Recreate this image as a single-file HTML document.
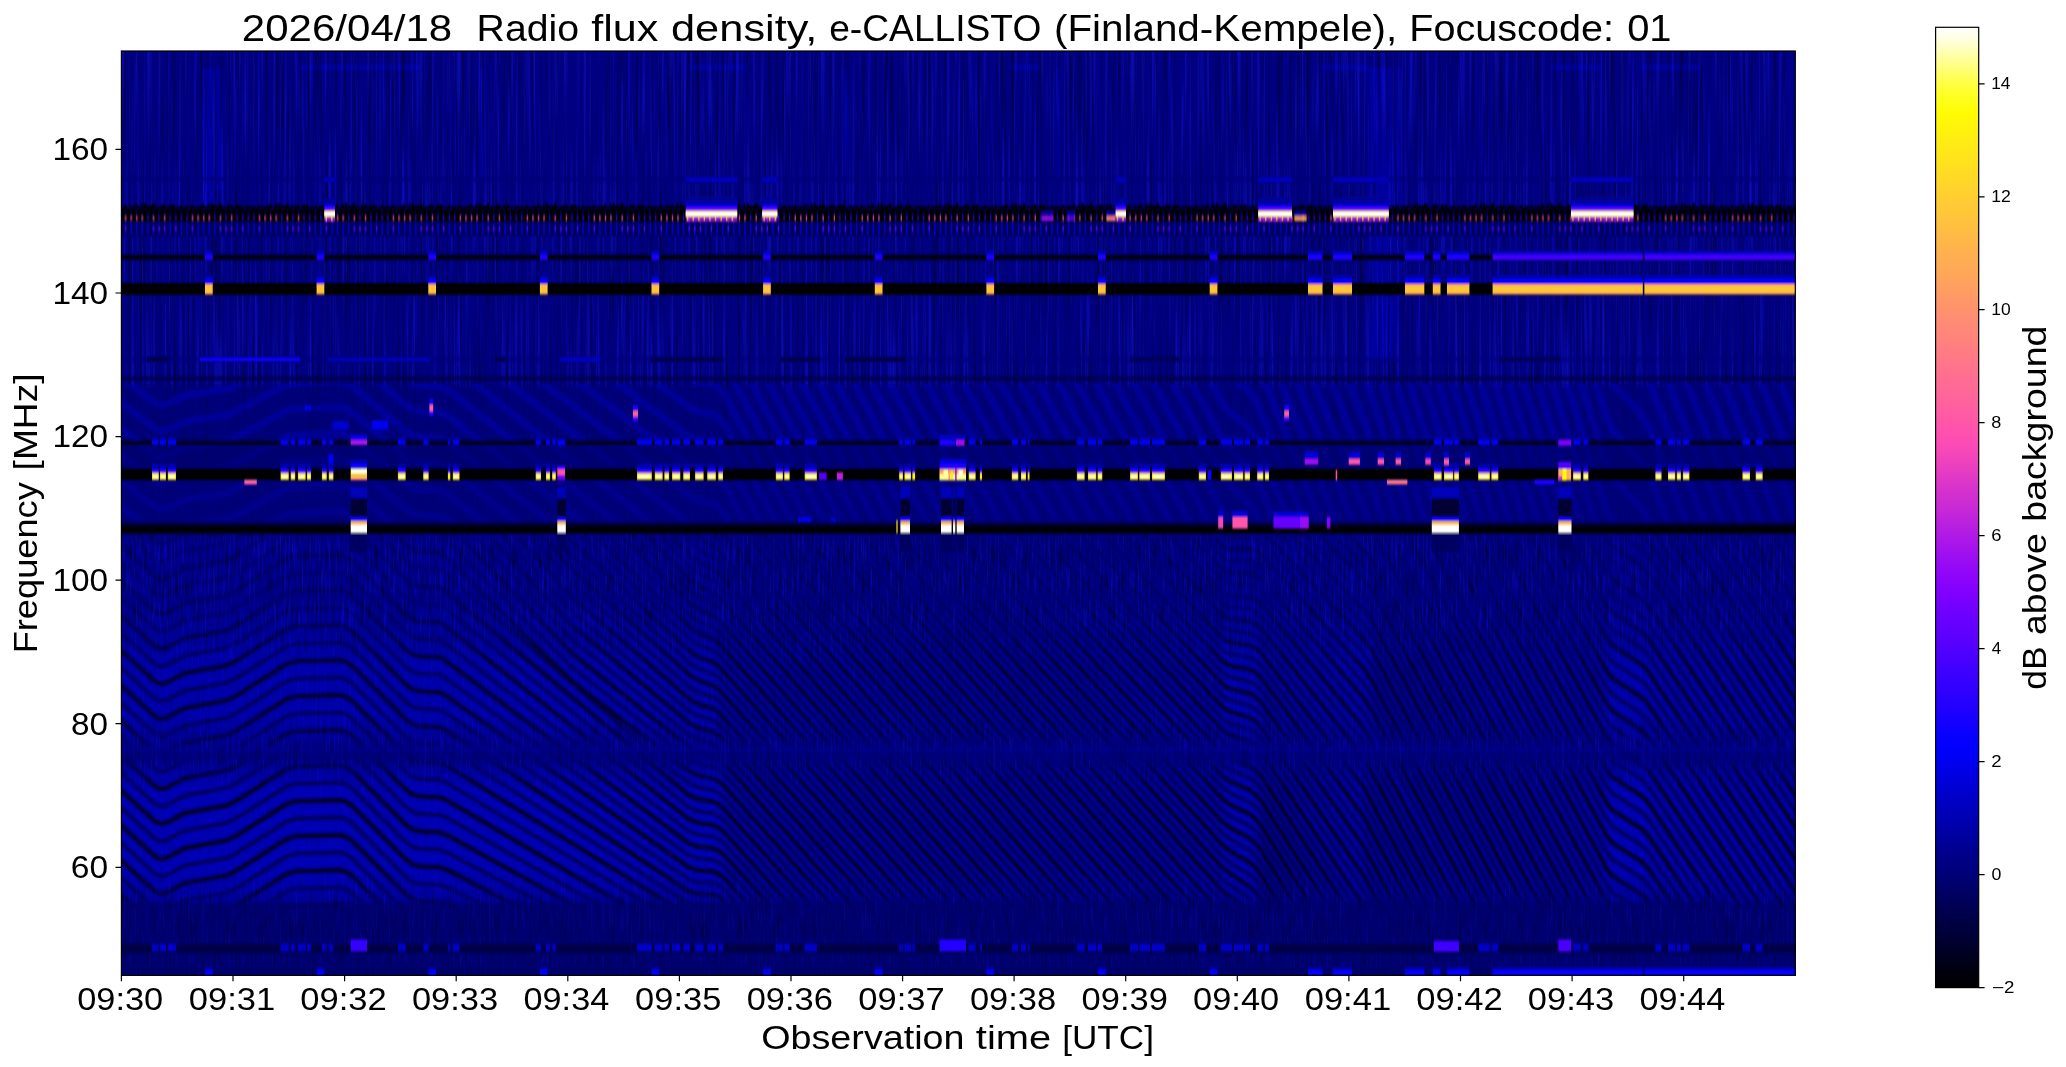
<!DOCTYPE html>
<html><head><meta charset="utf-8"><title>e-CALLISTO spectrogram</title>
<style>html,body{margin:0;padding:0;background:#fff}svg{display:block}text{font-family:"Liberation Sans",sans-serif;fill:#000}</style>
</head><body>
<svg width="2066" height="1067" viewBox="0 0 2066 1067">
<defs>
<linearGradient id="cb" x1="0" y1="0" x2="0" y2="1"><stop offset="0.0000" stop-color="#ffffff"/><stop offset="0.0147" stop-color="#ffffda"/><stop offset="0.0294" stop-color="#ffffa7"/><stop offset="0.0441" stop-color="#ffff75"/><stop offset="0.0588" stop-color="#ffff43"/><stop offset="0.0735" stop-color="#ffff1e"/><stop offset="0.0882" stop-color="#fffc03"/><stop offset="0.1029" stop-color="#fff40b"/><stop offset="0.1176" stop-color="#ffec13"/><stop offset="0.1324" stop-color="#ffe619"/><stop offset="0.1471" stop-color="#ffde21"/><stop offset="0.1618" stop-color="#ffd629"/><stop offset="0.1765" stop-color="#ffce31"/><stop offset="0.1912" stop-color="#ffc837"/><stop offset="0.2059" stop-color="#ffc03f"/><stop offset="0.2206" stop-color="#ffb847"/><stop offset="0.2353" stop-color="#ffb04f"/><stop offset="0.2500" stop-color="#ffaa55"/><stop offset="0.2647" stop-color="#ffa25d"/><stop offset="0.2794" stop-color="#ff9a65"/><stop offset="0.2941" stop-color="#ff926d"/><stop offset="0.3088" stop-color="#ff8a75"/><stop offset="0.3235" stop-color="#ff847b"/><stop offset="0.3382" stop-color="#ff7c83"/><stop offset="0.3529" stop-color="#ff748b"/><stop offset="0.3676" stop-color="#ff6c93"/><stop offset="0.3824" stop-color="#ff6699"/><stop offset="0.3971" stop-color="#ff5ea1"/><stop offset="0.4118" stop-color="#ff56a9"/><stop offset="0.4265" stop-color="#ff4eb1"/><stop offset="0.4412" stop-color="#f848b7"/><stop offset="0.4559" stop-color="#eb40bf"/><stop offset="0.4706" stop-color="#df38c7"/><stop offset="0.4853" stop-color="#d230cf"/><stop offset="0.5000" stop-color="#c92ad5"/><stop offset="0.5147" stop-color="#bc22dd"/><stop offset="0.5294" stop-color="#b01ae5"/><stop offset="0.5441" stop-color="#a312ed"/><stop offset="0.5588" stop-color="#970af5"/><stop offset="0.5735" stop-color="#8d04fb"/><stop offset="0.5882" stop-color="#8100ff"/><stop offset="0.6029" stop-color="#7400ff"/><stop offset="0.6176" stop-color="#6800ff"/><stop offset="0.6324" stop-color="#5f00ff"/><stop offset="0.6471" stop-color="#5200ff"/><stop offset="0.6618" stop-color="#4600ff"/><stop offset="0.6765" stop-color="#3900ff"/><stop offset="0.6912" stop-color="#3000ff"/><stop offset="0.7059" stop-color="#2300ff"/><stop offset="0.7206" stop-color="#1700ff"/><stop offset="0.7353" stop-color="#0a00ff"/><stop offset="0.7500" stop-color="#0100ff"/><stop offset="0.7647" stop-color="#0000f0"/><stop offset="0.7794" stop-color="#0000e0"/><stop offset="0.7941" stop-color="#0000d0"/><stop offset="0.8088" stop-color="#0000c0"/><stop offset="0.8235" stop-color="#0000b4"/><stop offset="0.8382" stop-color="#0000a4"/><stop offset="0.8529" stop-color="#000094"/><stop offset="0.8676" stop-color="#000084"/><stop offset="0.8824" stop-color="#000078"/><stop offset="0.8971" stop-color="#000068"/><stop offset="0.9118" stop-color="#000058"/><stop offset="0.9265" stop-color="#000048"/><stop offset="0.9412" stop-color="#00003c"/><stop offset="0.9559" stop-color="#00002c"/><stop offset="0.9706" stop-color="#00001c"/><stop offset="0.9853" stop-color="#00000c"/><stop offset="1.0000" stop-color="#000000"/></linearGradient>
<clipPath id="axc"><rect x="121.4" y="51" width="1673.9" height="924.4"/></clipPath>

<filter id="bl" x="-2%" y="-2%" width="104%" height="104%"><feGaussianBlur stdDeviation="0.9 1.0"/></filter>
<filter id="bl3" x="-1%" y="-10%" width="102%" height="120%"><feGaussianBlur stdDeviation="0.45 0.8"/></filter>
<filter id="bl2" x="-2%" y="-2%" width="104%" height="104%"><feGaussianBlur stdDeviation="0.6 1.3"/></filter>
<filter id="nz" x="0" y="0" width="100%" height="100%" color-interpolation-filters="sRGB">
 <feTurbulence type="fractalNoise" baseFrequency="0.42 0.006" numOctaves="2" seed="11" result="t"/>
 <feColorMatrix in="t" type="matrix" values="0 0 0 0 0  0 0 0 0 0  0 0 0 0 0  1.2 0 0 0 -0.6"/>
</filter>
<filter id="nzb" x="0" y="0" width="100%" height="100%" color-interpolation-filters="sRGB">
 <feTurbulence type="fractalNoise" baseFrequency="0.38 0.007" numOctaves="2" seed="29" result="t"/>
 <feColorMatrix in="t" type="matrix" values="0 0 0 0 0.1  0 0 0 0 0.1  0 0 0 0 0.95  0 1.3 0 0 -0.66"/>
</filter>
<filter id="nz2" x="0" y="0" width="100%" height="100%" color-interpolation-filters="sRGB">
 <feTurbulence type="fractalNoise" baseFrequency="0.5 0.035" numOctaves="2" seed="5" result="t"/>
 <feColorMatrix in="t" type="matrix" values="0 0 0 0 0  0 0 0 0 0  0 0 0 0 0  1.3 0 0 0 -0.6"/>
</filter>
<filter id="nzb2" x="0" y="0" width="100%" height="100%" color-interpolation-filters="sRGB">
 <feTurbulence type="fractalNoise" baseFrequency="0.45 0.03" numOctaves="2" seed="41" result="t"/>
 <feColorMatrix in="t" type="matrix" values="0 0 0 0 0.08  0 0 0 0 0.08  0 0 0 0 0.95  0 1.3 0 0 -0.68"/>
</filter>
<pattern id="p151" x="121.4" y="200" width="66.96" height="40" patternUnits="userSpaceOnUse">
 <path d="M0.4 9.4v-1.5h2.4v1.5zM3.0 9.4v-4.5h1.6v4.5zM8.6 9.4v-2.5h2.4v2.5zM11.6 9.4v-3.5h2.0v3.5zM14.2 9.4v-5.5h1.6v5.5zM19.7 9.4v-6.0h1.6v6.0zM22.7 9.4v-6.0h2.0v6.0zM25.3 9.4v-3.5h2.4v3.5zM28.3 9.4v-3.5h2.4v3.5zM30.9 9.4v-6.0h2.4v6.0zM33.9 9.4v-1.5h2.0v1.5zM36.5 9.4v-1.5h2.0v1.5zM39.5 9.4v-4.5h2.0v4.5zM42.1 9.4v-4.5h2.0v4.5zM47.6 9.4v-4.5h2.4v4.5zM50.6 9.4v-4.5h2.4v4.5zM58.8 9.4v-3.5h2.4v3.5zM61.8 9.4v-1.5h1.6v1.5zM64.4 9.4v-2.5h2.0v2.5z" fill="#000"/>
 <path d="M3.6 15.6h1.3v5.2h-1.3zM9.2 15.6h1.3v5.2h-1.3zM14.8 15.6h1.3v5.2h-1.3zM20.3 15.6h1.3v5.2h-1.3zM31.5 15.6h1.3v5.2h-1.3zM42.7 15.6h1.3v5.2h-1.3z" fill="#f848b7" opacity="0.9"/>
 <path d="M25.9 15.6h1.3v5.2h-1.3zM37.1 15.6h1.3v5.2h-1.3zM48.2 15.6h1.3v5.2h-1.3zM53.8 15.6h1.3v5.2h-1.3zM59.4 15.6h1.3v5.2h-1.3zM65.0 15.6h1.3v5.2h-1.3z" fill="#2d00ff" opacity="0.9"/>
 <path d="M3.6 11.4h1.2v4.4h-1.2zM9.2 12.0h1.2v4.2h-1.2zM14.8 10.7h1.2v4.9h-1.2zM20.3 11.9h1.2v3.6h-1.2zM25.9 11.8h1.2v4.6h-1.2zM31.5 11.9h1.2v4.8h-1.2zM37.1 11.2h1.2v4.4h-1.2zM42.7 11.1h1.2v3.8h-1.2zM48.2 11.5h1.2v4.0h-1.2zM53.8 11.4h1.2v5.0h-1.2zM59.4 10.6h1.2v4.7h-1.2zM65.0 11.8h1.2v3.6h-1.2z" fill="#0000f0" opacity="0.55"/>
 <path d="M3.5 22.6h1.5v12.6h-1.5zM9.1 22.6h1.5v12.6h-1.5zM14.7 22.6h1.5v12.6h-1.5zM20.2 22.6h1.5v12.6h-1.5zM25.8 22.6h1.5v12.6h-1.5zM31.4 22.6h1.5v12.6h-1.5zM37.0 22.6h1.5v12.6h-1.5zM42.6 22.6h1.5v12.6h-1.5zM48.1 22.6h1.5v12.6h-1.5zM53.7 22.6h1.5v12.6h-1.5zM59.3 22.6h1.5v12.6h-1.5zM64.9 22.6h1.5v12.6h-1.5z" fill="#0000f0" opacity="0.85"/>
 <path d="M3.6 27h1.3v3.4h-1.3zM31.5 27h1.3v3.4h-1.3zM37.1 27h1.3v3.4h-1.3zM42.7 27h1.3v3.4h-1.3zM53.8 27h1.3v3.4h-1.3z" fill="#8100ff" opacity="0.8"/>
</pattern>
<path id="fr" d="M1807.4 525.4l3 4.6M1786.4 525.1l24 37M1765.4 524.9l45 69.2M1744.4 524.8l66 101.4M1723.4 524.8l87 133.4M1702.4 524.9l108 165.4M1681.4 525.1l129 197.3M1660.4 525.4l150 229M1627.4 523.5l12 7.7l6 5.5l165 249.8M1597.4 523.7l9 15.4l6 7l30 20.4l9 10.6l159 241.4M1579.4 524.3l27 47.7l6 7.1l30 20.3l9 10.5l159 240.7M1561.4 524.7l45 80.2l6 7.2l30 20.1l6 6.5l162 243.9M1543.4 524.8l63 113.1l6 7.2l30 20l6 6.4l162 243.2M1525.4 524.7l81 146.1l6 7.3l30 19.8l6 6.5l141 211.2M1507.4 524.5l99 179.2l6 7.3l30 19.8l6 6.4l120 179.4M1489.4 524l117 212.7l6 7.3l30 19.7l6 6.3l99 147.6M1471.4 523.3l135 246.3l6 7.4l30 19.5l6 6.3l78 116M1453.4 522.4l153 280.2l6 7.4l30 19.4l6 6.2l54 80.1M1438.4 526.6l168 308.9l6 7.5l30 19.2l6 6.3l33 48.6M1420.4 525.3l186 343.1l6 7.6l30 19.1l6 6.2l12 17.3M1402.4 523.8l204 377.6l6 7.6l15 9.6M1384.4 522.1l213 395.5M1366.4 523.4l6 7.7l207 384.4M1336.4 522.2l30 31l6 7.9l192 357.9M1309.4 523.4l57 59.6l6 8.2l174 325.2M1282.4 524.1l81 84.9l9 12.2l159 298.2M1222.4 523.1l3 2.4l3 1l21 -1.8l6 1.2l6 3.7l102 109l9 12.6l141 265.3M1201.4 524.3l21 21.8l3 2.4l3 1.1l21 -0.8l6 1.5l6 4l102 113.9l9 13l126 237.9M1180.4 525.1l42 44l3 2.4l3 1.2l21 0.2l6 1.8l6 4.3l102 118.8l9 13.4l108 204.5M1156.4 522.7l66 69.4l3 2.4l3 1.3l21 1.2l6 2.1l6 4.6l102 123.8l102 190.4M1135.4 523.3l87 91.7l3 2.5l3 1.4l21 2.2l6 2.4l6 4.9l102 128.7l87 162.8M1114.4 523.9l108 114.1l3 2.5l6 2.2l18 2.5l6 2.7l6 5.2l102 133.6l69 129.2M1093.4 524.4l129 136.6l3 2.5l6 2.4l18 3.4l6 3l6 5.5l102 138.5l54 101.2M1072.4 524.8l150 159.2l3 2.5l6 2.7l18 4.2l6 3.3l6 5.8l102 143.4l39 73M1051.4 525.1l171 181.9l6 4.2l21 6.3l6 3.6l6 6.1l102 148.3l21 38.7M1027.4 522.2l195 207.8l6 4.3l21 7.3l6 3.9l6 6.4l105 158.4l3 5.4M1006.4 522.4l216 230.5l6 4.5l21 8.4l6 4.1l6 6.6l93 143.2M985.4 522.5l237 253.4l6 4.6l21 9.4l6 4.4l6 6.9l75 117.3M964.4 522.5l258 276.4l9 6.5l18 8.6l6 4.7l6 7.2l57 90.5M946.4 523.8l276 298.1l9 6.7l18 9.5l6 5l6 7.5l42 67.9M928.4 524.7l294 320.2l9 7l18 10.3l6 5.3l6 7.8l27 44.4M907.4 522.2l315 345.7l30 20.9l6 6.8l12 19.4M889.4 523.3l333 367.6l30 22.2l3 3.2M871.4 524.5l351 389.3l6 5.3M850.4 522.2l354 394.9M832.4 523.6l354 396.3M814.4 525l351 394.2M793.4 523l351 395.5M775.4 524.6l348 393.1M754.4 522.8l348 394.1M736.4 524.5l348 394.8M715.4 524.2l348 394.1M682.4 523.4l12 11.7l21 12.3l327 369.8M658.4 522.8l33 33.7l9 6.3l12 5.8l6 4.7l306 346.1M634.4 523.4l57 57.1l9 6l12 5.4l6 4.5l285 321.7M610.4 525l81 79.5l9 5.7l12 5l6 4.3l264 297.3M583.4 524.8l108 103.7l9 5.4l12 4.6l6 4.1l246 276.1M556.4 522.7l15 18l120 111.8l9 5.1l12 4.2l6 3.9l225 251.9M532.4 523.5l39 45.2l120 107.8l9 4.8l12 3.8l6 3.7l207 231.1M505.4 522.7l66 74l120 103.8l9 4.5l12 3.4l6 3.5l186 207.1M478.4 524l93 100.7l117 97.8l9 5.1l15 4.1l6 3.3l6 5.3l159 177.8M448.4 524.1l123 128.6l117 93.9l9 4.8l15 3.6l6 3.1l6 5.2l138 154M136.4 524.3l18 16.6l3 1.8l3 1l3 0.1l3 -0.9l18 -9.7l42 -7.7l6 -2.4M385.4 524.1l21 21l6 4.2l6 2l21 1l3 1.2l129 127.2l117 90l9 4.5l15 3.1l6 2.9l6 5.1l120 133.7M115.4 540l39 35.9l3 1.8l3 1l3 0.1l3 -0.9l18 -9.7l42 -7.7l9 -4.1l51 -32.3l3 -1.3M349.4 523.7l57 56.4l6 4.2l6 2l21 1l3 1.2l246 206.3l9 4.2l15 2.6l6 2.7l6 4.9l99 110.2M115.4 575l39 35.9l3 1.8l3 1l3 0.1l3 -0.9l18 -9.7l42 -7.7l9 -4.1l51 -32.3l9 -2.9l45 -1.1l6 1.8l6 4.2l54 54l6 4.2l6 2l21 1l3 1.1l246 195.5l9 3.9l15 2.1l6 2.5l6 4.8l78 86.6M115.4 610l39 35.9l3 1.8l3 1l3 0.1l3 -0.9l18 -9.7l42 -7.7l9 -4.1l51 -32.3l9 -2.9l45 -1.1l6 1.8l6 4.2l54 54l6 4.2l6 2l21 1l3 1l246 184.7l9 3.6l15 1.6l6 2.3l6 4.7l57 63.2M115.4 645l39 35.9l3 1.8l3 1l3 0.1l3 -0.9l18 -9.7l42 -7.7l9 -4.1l51 -32.3l9 -2.9l45 -1.1l6 1.8l6 4.2l54 54l6 4.2l6 2l21 1l6 2.8l243 172l9 3.3l15 1.1l6 2.1l6 4.6l36 39.8M115.4 680l39 35.9l3 1.8l3 1l3 0.1l3 -0.9l18 -9.7l42 -7.7l9 -4.1l51 -32.3l9 -2.9l45 -1.1l6 1.8l6 4.2l54 54l6 4.2l6 2l21 1l6 2.6l243 161.3l9 3l15 0.6l6 1.9l3 1.8l18 19.3M115.4 715l39 35.9l3 1.8l3 1l3 0.1l3 -0.9l18 -9.7l42 -7.7l9 -4.1l51 -32.3l9 -2.9l45 -1.1l6 1.8l6 4.2l54 54l6 4.2l6 2l21 1l6 2.4l243 150.6l9 2.7l15 0.1l6 1.7M115.4 750l39 35.9l3 1.8l3 1l3 0.1l3 -0.9l18 -9.7l42 -7.7l9 -4.1l51 -32.3l9 -2.9l45 -1.1l6 1.8l6 4.2l54 54l6 4.2l6 2l21 1l6 2.1l204 120.4M115.4 785l39 35.9l3 1.8l3 1l3 0.1l3 -0.9l18 -9.7l42 -7.7l9 -4.1l51 -32.3l9 -2.9l45 -1.1l6 1.8l6 4.2l54 54l6 4.2l6 2l21 1l9 3.4l150 83.5M115.4 820l39 35.9l3 1.8l3 1l3 0.1l3 -0.9l18 -9.7l42 -7.7l9 -4.1l51 -32.3l9 -2.9l45 -1.1l6 1.8l6 4.2l54 54l6 4.2l6 2l21 1l9 3.1l93 48.7M115.4 855l39 35.9l3 1.8l3 1l3 0.1l3 -0.9l18 -9.7l42 -7.7l9 -4.1l51 -32.3l9 -2.9l45 -1.1l6 1.8l6 4.2l54 54l6 4.2l6 2l21 1l9 2.7l27 13.6M115.4 890l30 27.6M181.4 919.5l9 -3l36 -6l9 -4.1l51 -32.3l9 -2.9l45 -1.1l6 1.8l6 4.2l42 42M271.4 918.4l15 -9.3l9 -2.9l45 -1.1l6 1.8l6 4.2l6 6" fill="none"/><path id="fr2" d="M1795.4 522.9l15 23.2M1774.4 522.7l36 55.4M1753.4 522.5l57 87.7M1732.4 522.5l78 119.7M1711.4 522.5l99 151.8M1690.4 522.7l120 183.6M1669.4 522.9l141 215.5M1648.4 523.8l162 246.6M1606.4 522.6l6 7l30 20.5l9 10.6l159 241.8M1588.4 524l18 31.5l6 7.1l30 20.4l9 10.5l159 241M1570.4 524.5l36 64l6 7.1l30 20.2l6 6.5l162 244.3M1552.4 524.8l54 96.6l6 7.2l30 20.1l6 6.4l162 243.5M1534.4 524.8l72 129.5l6 7.3l30 19.9l6 6.4l153 229.4M1516.4 524.6l90 162.7l6 7.2l30 19.9l6 6.4l132 197.5M1498.4 524.2l108 196l6 7.3l30 19.7l6 6.4l111 165.7M1480.4 523.6l126 229.6l6 7.3l30 19.6l6 6.3l87 129.6M1462.4 522.9l144 263.2l6 7.4l30 19.4l6 6.3l66 98.1M1447.4 527.2l159 291.8l6 7.5l30 19.3l6 6.3l45 66.5M1429.4 526l177 326l6 7.5l30 19.1l6 6.3l21 30.7M1411.4 524.6l195 360.3l6 7.6l30 19l6 6.2M1393.4 523l213 394.8M1378.4 526.5l210 390.1M1351.4 522.8l18 19.1l201 372.5M1324.4 524.4l42 43.7l6 8l183 341.6M1294.4 522.4l72 75.4l6 8.4l165 308.8M1267.4 522.8l96 101l9 12.4l150 281.8M1210.4 522.3l12 12.3l3 2.4l3 1l21 -1.3l6 1.4l6 3.9l102 111.4l9 12.8l132 248.7M1189.4 523.2l33 34.4l3 2.4l3 1.1l21 -0.3l6 1.7l6 4.2l102 116.3l9 13.2l117 221.2M1168.4 523.9l54 56.7l3 2.4l3 1.2l21 0.7l6 2l6 4.5l102 121.3l12 18.9l99 188.1M1147.4 524.6l75 78.9l3 2.5l3 1.3l21 1.7l6 2.3l6 4.8l102 126.2l93 173.7M1123.4 522l99 104.5l3 2.5l6 2.1l18 2l6 2.6l6 5l102 131.2l78 146M1102.4 522.6l120 126.9l3 2.5l6 2.3l18 3l6 2.8l6 5.3l102 136.1l63 118.1M1081.4 523l141 149.5l3 2.5l6 2.6l18 3.8l6 3.1l6 5.6l102 141l45 84.2M1060.4 523.4l162 172.1l6 4.2l21 5.8l6 3.4l6 5.9l102 145.9l30 55.9M1039.4 523.7l183 194.8l6 4.3l21 6.8l6 3.7l6 6.2l102 150.8l15 27.4M1018.4 523.9l204 217.6l6 4.4l21 7.8l6 4l6 6.5l102 155.8M997.4 524l225 240.4l6 4.6l21 8.8l6 4.3l6 6.8l84 130.3M976.4 524.1l246 263.3l9 6.4l18 8.1l6 4.6l6 7.1l66 104M955.4 523.4l267 287l9 6.6l18 9l6 4.9l6 7.4l48 76.7M937.4 524.3l285 309.1l9 6.8l18 9.9l6 5.2l6 7.7l33 53.6M919.4 525.2l303 331.2l9 7.1l18 10.8l6 5.4l6 7.9l18 29.8M898.4 522.8l324 356.6l30 21.5l6 7l6 9.5M880.4 523.9l342 378.5l21 15.9M862.4 525.1l354 393.9M841.4 522.9l354 395.6M823.4 524.3l351 393.6M802.4 522.2l351 395M784.4 523.8l351 396M766.4 525.4l348 393.6M745.4 523.6l348 394.5M727.4 525.4l345 391.7M694.4 523.1l21 12.7l339 383.6M670.4 523l21 21.5l9 6.5l12 5.9l6 4.8l315 356.6M646.4 523l45 45.5l9 6.2l12 5.5l6 4.6l294 332.3M622.4 524.1l69 68.4l9 5.9l12 5.1l6 4.4l276 311.2M595.4 523.3l96 93.2l9 5.6l12 4.7l6 4.2l255 286.8M568.4 523l123 117.5l9 5.3l12 4.3l6 4l237 265.7M544.4 522.8l27 31.9l120 109.8l9 5l12 3.9l6 3.8l216 241.6M520.4 524.6l51 58.1l120 105.8l9 4.7l12 3.5l6 3.6l195 217.5M493.4 524.8l78 85.9l117 99.8l9 5.2l15 4.3l6 3.4l174 193.5M463.4 523.8l108 114.9l117 95.9l9 4.9l15 3.8l6 3.2l6 5.3l150 167.6M154.4 523.4l3 1.8l3 1l3 0.1l3 -0.9l3 -1.7M403.4 524.6l6 5.4l6 3.1l24 1.7l3 1.2l129 130.7l117 92l9 4.6l15 3.3l6 3l6 5.2l129 143.8M115.4 522.5l39 35.9l3 1.8l3 1l3 0.1l3 -0.9l18 -9.7l42 -7.7l9 -4.1l24 -15.3M367.4 523.6l39 39l6 4.2l6 2l21 1l3 1.2l234 203.3l15 10.2l9 3.5l12 1.9l6 2.8l6 5.1l108 120.2M115.4 557.5l39 35.9l3 1.8l3 1l3 0.1l3 -0.9l18 -9.7l42 -7.7l9 -4.1l51 -32.3l9 -2.9l45 -1.1l6 1.8l6 4.2l54 54l6 4.2l6 2l21 1l3 1.1l246 201l9 4l15 2.3l6 2.6l6 4.9l87 96.7M115.4 592.5l39 35.9l3 1.8l3 1l3 0.1l3 -0.9l18 -9.7l42 -7.7l9 -4.1l51 -32.3l9 -2.9l45 -1.1l6 1.8l6 4.2l54 54l6 4.2l6 2l21 1l3 1.1l246 190.1l9 3.7l15 1.8l6 2.4l6 4.8l66 73.2M115.4 627.5l39 35.9l3 1.8l3 1l3 0.1l3 -0.9l18 -9.7l42 -7.7l9 -4.1l51 -32.3l9 -2.9l45 -1.1l6 1.8l6 4.2l54 54l6 4.2l6 2l21 1l3 1l246 179.3l9 3.4l15 1.3l6 2.2l6 4.7l48 53.2M115.4 662.5l39 35.9l3 1.8l3 1l3 0.1l3 -0.9l18 -9.7l42 -7.7l9 -4.1l51 -32.3l9 -2.9l45 -1.1l6 1.8l6 4.2l54 54l6 4.2l6 2l21 1l6 2.7l243 166.7l9 3.1l15 0.8l6 2l6 4.6l27 29.8M115.4 697.5l39 35.9l3 1.8l3 1l3 0.1l3 -0.9l18 -9.7l42 -7.7l9 -4.1l51 -32.3l9 -2.9l45 -1.1l6 1.8l6 4.2l54 54l6 4.2l6 2l21 1l6 2.5l243 156l9 2.8l15 0.3l6 1.8l3 1.8l9 9.3M115.4 732.5l39 35.9l3 1.8l3 1l3 0.1l3 -0.9l18 -9.7l42 -7.7l9 -4.1l51 -32.3l9 -2.9l45 -1.1l6 1.8l6 4.2l54 54l6 4.2l6 2l21 1l6 2.2l228 137.7M115.4 767.5l39 35.9l3 1.8l3 1l3 0.1l3 -0.9l18 -9.7l42 -7.7l9 -4.1l51 -32.3l9 -2.9l45 -1.1l6 1.8l6 4.2l54 54l6 4.2l6 2l21 1l9 3.6l174 100.2M115.4 802.5l39 35.9l3 1.8l3 1l3 0.1l3 -0.9l18 -9.7l42 -7.7l9 -4.1l51 -32.3l9 -2.9l45 -1.1l6 1.8l6 4.2l54 54l6 4.2l6 2l21 1l9 3.2l123 65.7M115.4 837.5l39 35.9l3 1.8l3 1l3 0.1l3 -0.9l18 -9.7l42 -7.7l9 -4.1l51 -32.3l9 -2.9l45 -1.1l6 1.8l6 4.2l54 54l6 4.2l6 2l21 1l9 2.9l60 30.9M115.4 872.5l39 35.9l3 1.8l3 1l3 0.1l3 -0.9l18 -9.7l42 -7.7l9 -4.1l51 -32.3l9 -2.9l45 -1.1l6 1.8l6 4.2l54 54l6 4.2l6 2l21 1M115.4 907.5l12 11M244.4 918.2l42 -26.6l9 -2.9l45 -1.1l6 1.8l6 4.2l24 24" fill="none"/><path id="fra" d="M1798.4 380.9l12 30.6M1777.4 375.4l33 84M1759.4 377.3l51 130M1741.4 379.2l57 145.3M1723.4 380.8l57 145.4M1702.4 374.8l60 153M1684.4 376.2l60 153M1666.4 377.6l60 153M1648.4 379.7l60 152.1M1609.4 377.5l6 10.1l24 24.3l9 14.6l39 98.7M1594.4 379.8l12 37.3l6 12.7l30 32.9l9 17.4l18 46M1579.4 377.9l27 85.8l6 12.7l30 33.1l9 17.5M1564.4 376l42 134.2l6 12.8l6 7.6M1552.4 383.6l45 145.4M1537.4 381.5l45 145.3M1522.4 379.2l45 145.4M1507.4 376.9l48 155M1492.4 374.5l48 155M1480.4 381.6l45 145.4M1465.4 379l45 145.3M1450.4 376.3l48 155M1438.4 383.2l45 145.3M1423.4 380.3l45 145.3M1408.4 377.3l45 145.3M1393.4 374.2l48 155M1381.4 380.7l45 145.3M1366.4 380.3l45 142.4M1348.4 380l27 71.4l24 77.7M1330.4 379l42 108.2l12 38.4M1312.4 377l57 146.1M1294.4 374.1l60 152.4M1279.4 377.4l60 152.8M1264.4 379.8l57 145M1228.4 375.3l21 16l6 7.6l51 127.5M1207.4 376l18 31.8l24 20.9l6 8l36 90.2M1189.4 378.4l33 61l9 11.2l18 15.6l6 8.3l21 52M1168.4 375.1l54 100.2l9 11.7l18 16.6l6 8.7l6 12.9M1150.4 377.4l72 133.9l15 17.8M1132.4 379.5l81 151.5M1111.4 376l81 151.5M1093.4 378l81 151.5M1072.4 374.4l84 157.1M1054.4 376.3l81 151.4M1036.4 378.1l81 151.5M1015.4 374.2l84 157.1M997.4 375.9l81 151.4M979.4 377.5l81 151.5M961.4 379l81 151.5M940.4 374.9l84 157M922.4 375.8l81 151.9M904.4 376.4l81 152.6M886.4 376.6l81 153.7M868.4 376.4l81 154.2M850.4 375.9l81 154.2M832.4 375l81 154.1M817.4 379.3l78 148.5M799.4 377.8l78 148.4M781.4 375.8l81 154.2M766.4 379.1l78 148.5M748.4 376.5l81 154.2M730.4 374.2l81 153.4M685.4 375.5l12 6.5l15 2l6 3.3l6 6.9l72 135.8M646.4 376l45 32.9l9 3.4l12 1.5l6 3.4l6 7.1l54 101.9M607.4 375.8l84 62.5l9 3.6l12 1.7l6 3.5l6 7.3l39 73.5M568.4 374.8l123 92.9l9 3.7l12 2.1l6 3.6l6 7.3l24 44.9M532.4 374.3l159 122.8l9 3.9l12 2.3l6 3.7l6 7.5l9 16.2M499.4 375.9l195 152.4l12 3.5M463.4 374.9l198 156.1M151.4 374.2l6 3.9l6 0.8l9 -3.6M400.4 375l9 7.1l9 3.2l21 1l9 3.7l180 141.9M118.4 374.3l36 28.2l6 2.4l6 -0.7l21 -9l42 -6.7l27 -13.9M370.4 375.5l39 32.6l9 3.2l21 1l9 3.8l144 113.4M115.4 398l39 30.5l6 2.4l6 -0.7l21 -9l42 -6.7l60 -31.1l51 -2.3l9 3l60 50l9 3.2l21 1l9 3.8l114 89.7M115.4 424l39 30.5l6 2.4l6 -0.7l21 -9l42 -6.7l60 -31.1l51 -2.3l9 3l60 50l9 3.2l21 1l9 3.9l78 61.5M115.4 450l39 30.5l6 2.4l6 -0.7l21 -9l42 -6.7l60 -31.1l51 -2.3l9 3l60 50l9 3.2l21 1l9 3.9l45 35.5M115.4 476l39 30.5l6 2.4l6 -0.7l21 -9l42 -6.7l60 -31.1l51 -2.3l9 3l60 50l9 3.2l21 1l9 4l15 11.6M115.4 502l36 28.2M172.4 531.3l18 -6.8l39 -6l60 -31.1l51 -2.3l9 3l51 42.9M115.4 528l3 2.3M256.4 530.5l33 -17.1l51 -2.3l9 3l21 17.4" fill="none"/><clipPath id="cA"><rect x="121" y="384" width="1675" height="140"/></clipPath><linearGradient id="gf" gradientUnits="userSpaceOnUse" x1="0" y1="520" x2="0" y2="920"><stop offset="0.0200" stop-color="#fff" stop-opacity="0.00"/><stop offset="0.0350" stop-color="#fff" stop-opacity="0.00"/><stop offset="0.0500" stop-color="#fff" stop-opacity="0.18"/><stop offset="0.2000" stop-color="#fff" stop-opacity="0.20"/><stop offset="0.3000" stop-color="#fff" stop-opacity="0.45"/><stop offset="0.3625" stop-color="#fff" stop-opacity="0.78"/><stop offset="0.4875" stop-color="#fff" stop-opacity="0.78"/><stop offset="0.5450" stop-color="#fff" stop-opacity="0.40"/><stop offset="0.5650" stop-color="#fff" stop-opacity="0.12"/><stop offset="0.6000" stop-color="#fff" stop-opacity="0.12"/><stop offset="0.6250" stop-color="#fff" stop-opacity="0.50"/><stop offset="0.6750" stop-color="#fff" stop-opacity="0.92"/><stop offset="0.8750" stop-color="#fff" stop-opacity="0.92"/><stop offset="0.9375" stop-color="#fff" stop-opacity="0.55"/><stop offset="0.9650" stop-color="#fff" stop-opacity="0.15"/><stop offset="0.9850" stop-color="#fff" stop-opacity="0.00"/></linearGradient><mask id="mf" maskUnits="userSpaceOnUse" x="100" y="510" width="1720" height="420"><rect x="100" y="520" width="1720" height="400" fill="url(#gf)"/></mask><filter id="blg2" x="-2%" y="-2%" width="104%" height="104%"><feGaussianBlur stdDeviation="1.8"/></filter><filter id="blg" x="-2%" y="-2%" width="104%" height="104%"><feGaussianBlur stdDeviation="1.7"/></filter>
</defs>
<rect width="2066" height="1067" fill="#fff"/>
<g clip-path="url(#axc)">
<g filter="url(#bl)">
<rect x="100" y="30" width="1720" height="970" fill="#000080"/>
<rect x="203" y="68" width="10" height="137" fill="#0000b0" opacity="0.7"/>
<rect x="217" y="68" width="5" height="122" fill="#0000a8" opacity="0.7"/>
<rect x="1368" y="68" width="25" height="292" fill="#0000a8" opacity="0.7"/>
<rect x="1396" y="68" width="6" height="232" fill="#0000a4" opacity="0.7"/>
<rect x="480" y="68" width="4" height="112" fill="#0000a8" opacity="0.7"/>
<rect x="845" y="68" width="3" height="132" fill="#0000a8" opacity="0.7"/>
<rect x="1057" y="68" width="3" height="112" fill="#0000a8" opacity="0.7"/>
<rect x="1390" y="300" width="6" height="60" fill="#0000ac" opacity="0.7"/>
<rect x="1788" y="60" width="7" height="915" fill="#000090" opacity="0.7"/>
<rect x="300" y="65" width="120" height="5" fill="#0000b4" opacity="0.6"/>
<rect x="690" y="65" width="55" height="5" fill="#0000b4" opacity="0.6"/>
<rect x="1010" y="65" width="30" height="5" fill="#0000b4" opacity="0.6"/>
<rect x="1320" y="65" width="50" height="5" fill="#0000b4" opacity="0.6"/>
<rect x="1552" y="65" width="48" height="5" fill="#0000b4" opacity="0.6"/>
<rect x="1640" y="65" width="60" height="5" fill="#0000b4" opacity="0.6"/>
<rect x="100" y="51" width="1720" height="3.5" fill="#000084"/>
</g>
<rect x="121" y="51" width="1675" height="337" filter="url(#nz)"/>
<rect x="121" y="51" width="1675" height="337" filter="url(#nzb)"/>
<rect x="121" y="388" width="1675" height="146" filter="url(#nz)" opacity="0.6"/>
<rect x="121" y="534" width="1675" height="442" filter="url(#nz2)"/>
<rect x="121" y="534" width="1675" height="442" filter="url(#nzb2)"/>
<g clip-path="url(#cA)"><g filter="url(#blg2)"><rect x="100" y="375" width="1720" height="160" fill="#000070" opacity="0.45"/><use href="#fra" stroke="#0000bc" stroke-width="6.5" opacity="0.5"/></g></g>
<g mask="url(#mf)"><g filter="url(#blg)"><rect x="100" y="520" width="1720" height="400" fill="#0000c0" opacity="0.88"/><use href="#fr" stroke="#000004" stroke-width="5.6" opacity="0.96"/><use href="#fr2" stroke="#00000c" stroke-width="4.6" opacity="0.62"/></g></g>
<g filter="url(#bl)">
<rect x="100" y="177.2" width="1720" height="4" fill="#000078" opacity="0.7"/>
<rect x="100" y="209" width="1720" height="13" fill="#000"/>
<rect x="100" y="206" width="1720" height="3" fill="#000040"/>
<rect x="100" y="222" width="1720" height="14" fill="#000054"/>
<rect x="100" y="253.4" width="1720" height="7.6" fill="#000054" opacity="0.5"/>
<rect x="100" y="255" width="1720" height="4.7" fill="#000010"/>
<rect x="100" y="283.2" width="1720" height="11.5" fill="#000"/>
<rect x="100" y="357.2" width="1720" height="4.4" fill="#00007c" opacity="0.6"/>
<rect x="100" y="376.4" width="1720" height="4.4" fill="#000040" opacity="0.7"/>
<rect x="100" y="439.4" width="1720" height="6.8" fill="#000058" opacity="0.5"/>
<rect x="100" y="440.8" width="1720" height="4" fill="#00001c"/>
<rect x="100" y="445" width="1720" height="24" fill="#00006c" opacity="0.55"/>
<rect x="100" y="480.4" width="1720" height="41.6" fill="#000078" opacity="0.35"/>
<rect x="100" y="469" width="1720" height="11.4" fill="#000"/>
<rect x="100" y="467.6" width="1720" height="1.4" fill="#000048"/>
<rect x="100" y="521.5" width="1720" height="12.9" fill="#000058"/>
<rect x="100" y="524" width="1720" height="9.6" fill="#000024"/>
<rect x="100" y="526.2" width="1720" height="6.6" fill="#000000"/>
<rect x="100" y="595.5" width="1720" height="3" fill="#00007c" opacity="0.6"/>
<rect x="100" y="746" width="1720" height="6" fill="#000090" opacity="0.5"/>
<rect x="100" y="752" width="1720" height="8" fill="#000078" opacity="0.6"/>
<rect x="100" y="903" width="1720" height="38" fill="#000060" opacity="0.5"/>
<rect x="100" y="942" width="1720" height="13" fill="#000058" opacity="0.8"/>
<rect x="100" y="945" width="1720" height="6.8" fill="#00003c" opacity="0.8"/>
<rect x="100" y="953.5" width="1720" height="12.5" fill="#000064" opacity="0.5"/>
<rect x="100" y="966" width="1720" height="14" fill="#000064" opacity="0.7"/>
</g>
<rect x="100" y="200" width="1720" height="40" fill="url(#p151)" filter="url(#bl3)"/>
<g filter="url(#bl2)">
<rect x="205" y="275.5" width="7.7" height="3.9" fill="#0000b4"/>
<rect x="205" y="279" width="7.7" height="5.2" fill="#0100ff"/>
<rect x="205" y="283.9" width="7.7" height="10.4" fill="#ffc639"/>
<rect x="205" y="283.9" width="7.7" height="1.3" fill="#ff748b" opacity="0.8"/>
<rect x="205" y="293.2" width="7.7" height="1.1" fill="#ff748b" opacity="0.8"/>
<rect x="205" y="251.4" width="7.7" height="3.4" fill="#0000d0"/>
<rect x="205" y="254.6" width="7.7" height="5.6" fill="#1d00ff"/>
<rect x="205" y="969.5" width="7.7" height="6.5" fill="#0000fc"/>
<rect x="205" y="966.5" width="7.7" height="3" fill="#0000c0" opacity="0.6"/>
<rect x="316.6" y="275.5" width="7.7" height="3.9" fill="#0000b4"/>
<rect x="316.6" y="279" width="7.7" height="5.2" fill="#0100ff"/>
<rect x="316.6" y="283.9" width="7.7" height="10.4" fill="#ffc639"/>
<rect x="316.6" y="283.9" width="7.7" height="1.3" fill="#ff748b" opacity="0.8"/>
<rect x="316.6" y="293.2" width="7.7" height="1.1" fill="#ff748b" opacity="0.8"/>
<rect x="316.6" y="251.4" width="7.7" height="3.4" fill="#0000d0"/>
<rect x="316.6" y="254.6" width="7.7" height="5.6" fill="#1d00ff"/>
<rect x="316.6" y="969.5" width="7.7" height="6.5" fill="#0000fc"/>
<rect x="316.6" y="966.5" width="7.7" height="3" fill="#0000c0" opacity="0.6"/>
<rect x="428.3" y="275.5" width="7.7" height="3.9" fill="#0000b4"/>
<rect x="428.3" y="279" width="7.7" height="5.2" fill="#0100ff"/>
<rect x="428.3" y="283.9" width="7.7" height="10.4" fill="#ffc639"/>
<rect x="428.3" y="283.9" width="7.7" height="1.3" fill="#ff748b" opacity="0.8"/>
<rect x="428.3" y="293.2" width="7.7" height="1.1" fill="#ff748b" opacity="0.8"/>
<rect x="428.3" y="251.4" width="7.7" height="3.4" fill="#0000d0"/>
<rect x="428.3" y="254.6" width="7.7" height="5.6" fill="#1d00ff"/>
<rect x="428.3" y="969.5" width="7.7" height="6.5" fill="#0000fc"/>
<rect x="428.3" y="966.5" width="7.7" height="3" fill="#0000c0" opacity="0.6"/>
<rect x="539.9" y="275.5" width="7.7" height="3.9" fill="#0000b4"/>
<rect x="539.9" y="279" width="7.7" height="5.2" fill="#0100ff"/>
<rect x="539.9" y="283.9" width="7.7" height="10.4" fill="#ffc639"/>
<rect x="539.9" y="283.9" width="7.7" height="1.3" fill="#ff748b" opacity="0.8"/>
<rect x="539.9" y="293.2" width="7.7" height="1.1" fill="#ff748b" opacity="0.8"/>
<rect x="539.9" y="251.4" width="7.7" height="3.4" fill="#0000d0"/>
<rect x="539.9" y="254.6" width="7.7" height="5.6" fill="#1d00ff"/>
<rect x="539.9" y="969.5" width="7.7" height="6.5" fill="#0000fc"/>
<rect x="539.9" y="966.5" width="7.7" height="3" fill="#0000c0" opacity="0.6"/>
<rect x="651.5" y="275.5" width="7.7" height="3.9" fill="#0000b4"/>
<rect x="651.5" y="279" width="7.7" height="5.2" fill="#0100ff"/>
<rect x="651.5" y="283.9" width="7.7" height="10.4" fill="#ffc639"/>
<rect x="651.5" y="283.9" width="7.7" height="1.3" fill="#ff748b" opacity="0.8"/>
<rect x="651.5" y="293.2" width="7.7" height="1.1" fill="#ff748b" opacity="0.8"/>
<rect x="651.5" y="251.4" width="7.7" height="3.4" fill="#0000d0"/>
<rect x="651.5" y="254.6" width="7.7" height="5.6" fill="#1d00ff"/>
<rect x="651.5" y="969.5" width="7.7" height="6.5" fill="#0000fc"/>
<rect x="651.5" y="966.5" width="7.7" height="3" fill="#0000c0" opacity="0.6"/>
<rect x="763.1" y="275.5" width="7.7" height="3.9" fill="#0000b4"/>
<rect x="763.1" y="279" width="7.7" height="5.2" fill="#0100ff"/>
<rect x="763.1" y="283.9" width="7.7" height="10.4" fill="#ffc639"/>
<rect x="763.1" y="283.9" width="7.7" height="1.3" fill="#ff748b" opacity="0.8"/>
<rect x="763.1" y="293.2" width="7.7" height="1.1" fill="#ff748b" opacity="0.8"/>
<rect x="763.1" y="251.4" width="7.7" height="3.4" fill="#0000d0"/>
<rect x="763.1" y="254.6" width="7.7" height="5.6" fill="#1d00ff"/>
<rect x="763.1" y="969.5" width="7.7" height="6.5" fill="#0000fc"/>
<rect x="763.1" y="966.5" width="7.7" height="3" fill="#0000c0" opacity="0.6"/>
<rect x="874.8" y="275.5" width="7.7" height="3.9" fill="#0000b4"/>
<rect x="874.8" y="279" width="7.7" height="5.2" fill="#0100ff"/>
<rect x="874.8" y="283.9" width="7.7" height="10.4" fill="#ffc639"/>
<rect x="874.8" y="283.9" width="7.7" height="1.3" fill="#ff748b" opacity="0.8"/>
<rect x="874.8" y="293.2" width="7.7" height="1.1" fill="#ff748b" opacity="0.8"/>
<rect x="874.8" y="251.4" width="7.7" height="3.4" fill="#0000d0"/>
<rect x="874.8" y="254.6" width="7.7" height="5.6" fill="#1d00ff"/>
<rect x="874.8" y="969.5" width="7.7" height="6.5" fill="#0000fc"/>
<rect x="874.8" y="966.5" width="7.7" height="3" fill="#0000c0" opacity="0.6"/>
<rect x="986.4" y="275.5" width="7.7" height="3.9" fill="#0000b4"/>
<rect x="986.4" y="279" width="7.7" height="5.2" fill="#0100ff"/>
<rect x="986.4" y="283.9" width="7.7" height="10.4" fill="#ffc639"/>
<rect x="986.4" y="283.9" width="7.7" height="1.3" fill="#ff748b" opacity="0.8"/>
<rect x="986.4" y="293.2" width="7.7" height="1.1" fill="#ff748b" opacity="0.8"/>
<rect x="986.4" y="251.4" width="7.7" height="3.4" fill="#0000d0"/>
<rect x="986.4" y="254.6" width="7.7" height="5.6" fill="#1d00ff"/>
<rect x="986.4" y="969.5" width="7.7" height="6.5" fill="#0000fc"/>
<rect x="986.4" y="966.5" width="7.7" height="3" fill="#0000c0" opacity="0.6"/>
<rect x="1098" y="275.5" width="7.7" height="3.9" fill="#0000b4"/>
<rect x="1098" y="279" width="7.7" height="5.2" fill="#0100ff"/>
<rect x="1098" y="283.9" width="7.7" height="10.4" fill="#ffc639"/>
<rect x="1098" y="283.9" width="7.7" height="1.3" fill="#ff748b" opacity="0.8"/>
<rect x="1098" y="293.2" width="7.7" height="1.1" fill="#ff748b" opacity="0.8"/>
<rect x="1098" y="251.4" width="7.7" height="3.4" fill="#0000d0"/>
<rect x="1098" y="254.6" width="7.7" height="5.6" fill="#1d00ff"/>
<rect x="1098" y="969.5" width="7.7" height="6.5" fill="#0000fc"/>
<rect x="1098" y="966.5" width="7.7" height="3" fill="#0000c0" opacity="0.6"/>
<rect x="1209.7" y="275.5" width="7.7" height="3.9" fill="#0000b4"/>
<rect x="1209.7" y="279" width="7.7" height="5.2" fill="#0100ff"/>
<rect x="1209.7" y="283.9" width="7.7" height="10.4" fill="#ffc639"/>
<rect x="1209.7" y="283.9" width="7.7" height="1.3" fill="#ff748b" opacity="0.8"/>
<rect x="1209.7" y="293.2" width="7.7" height="1.1" fill="#ff748b" opacity="0.8"/>
<rect x="1209.7" y="251.4" width="7.7" height="3.4" fill="#0000d0"/>
<rect x="1209.7" y="254.6" width="7.7" height="5.6" fill="#1d00ff"/>
<rect x="1209.7" y="969.5" width="7.7" height="6.5" fill="#0000fc"/>
<rect x="1209.7" y="966.5" width="7.7" height="3" fill="#0000c0" opacity="0.6"/>
<rect x="1308" y="275.5" width="14.5" height="3.9" fill="#0000b4"/>
<rect x="1308" y="279" width="14.5" height="5.2" fill="#0100ff"/>
<rect x="1308" y="283.9" width="14.5" height="10.4" fill="#ffc639"/>
<rect x="1308" y="283.9" width="14.5" height="1.3" fill="#ff748b" opacity="0.8"/>
<rect x="1308" y="293.2" width="14.5" height="1.1" fill="#ff748b" opacity="0.8"/>
<rect x="1308" y="251.4" width="14.5" height="3.4" fill="#0000d0"/>
<rect x="1308" y="254.6" width="14.5" height="5.6" fill="#1d00ff"/>
<rect x="1308" y="969.5" width="14.5" height="6.5" fill="#0000fc"/>
<rect x="1308" y="966.5" width="14.5" height="3" fill="#0000c0" opacity="0.6"/>
<rect x="1333" y="275.5" width="19" height="3.9" fill="#0000b4"/>
<rect x="1333" y="279" width="19" height="5.2" fill="#0100ff"/>
<rect x="1333" y="283.9" width="19" height="10.4" fill="#ffc639"/>
<rect x="1333" y="283.9" width="19" height="1.3" fill="#ff748b" opacity="0.8"/>
<rect x="1333" y="293.2" width="19" height="1.1" fill="#ff748b" opacity="0.8"/>
<rect x="1333" y="251.4" width="19" height="3.4" fill="#0000d0"/>
<rect x="1333" y="254.6" width="19" height="5.6" fill="#1d00ff"/>
<rect x="1333" y="969.5" width="19" height="6.5" fill="#0000fc"/>
<rect x="1333" y="966.5" width="19" height="3" fill="#0000c0" opacity="0.6"/>
<rect x="1405" y="275.5" width="19.3" height="3.9" fill="#0000b4"/>
<rect x="1405" y="279" width="19.3" height="5.2" fill="#0100ff"/>
<rect x="1405" y="283.9" width="19.3" height="10.4" fill="#ffc639"/>
<rect x="1405" y="283.9" width="19.3" height="1.3" fill="#ff748b" opacity="0.8"/>
<rect x="1405" y="293.2" width="19.3" height="1.1" fill="#ff748b" opacity="0.8"/>
<rect x="1405" y="251.4" width="19.3" height="3.4" fill="#0000d0"/>
<rect x="1405" y="254.6" width="19.3" height="5.6" fill="#1d00ff"/>
<rect x="1405" y="969.5" width="19.3" height="6.5" fill="#0000fc"/>
<rect x="1405" y="966.5" width="19.3" height="3" fill="#0000c0" opacity="0.6"/>
<rect x="1432.8" y="275.5" width="7.7" height="3.9" fill="#0000b4"/>
<rect x="1432.8" y="279" width="7.7" height="5.2" fill="#0100ff"/>
<rect x="1432.8" y="283.9" width="7.7" height="10.4" fill="#ffc639"/>
<rect x="1432.8" y="283.9" width="7.7" height="1.3" fill="#ff748b" opacity="0.8"/>
<rect x="1432.8" y="293.2" width="7.7" height="1.1" fill="#ff748b" opacity="0.8"/>
<rect x="1432.8" y="251.4" width="7.7" height="3.4" fill="#0000d0"/>
<rect x="1432.8" y="254.6" width="7.7" height="5.6" fill="#1d00ff"/>
<rect x="1432.8" y="969.5" width="7.7" height="6.5" fill="#0000fc"/>
<rect x="1432.8" y="966.5" width="7.7" height="3" fill="#0000c0" opacity="0.6"/>
<rect x="1447" y="275.5" width="22.4" height="3.9" fill="#0000b4"/>
<rect x="1447" y="279" width="22.4" height="5.2" fill="#0100ff"/>
<rect x="1447" y="283.9" width="22.4" height="10.4" fill="#ffc639"/>
<rect x="1447" y="283.9" width="22.4" height="1.3" fill="#ff748b" opacity="0.8"/>
<rect x="1447" y="293.2" width="22.4" height="1.1" fill="#ff748b" opacity="0.8"/>
<rect x="1447" y="251.4" width="22.4" height="3.4" fill="#0000d0"/>
<rect x="1447" y="254.6" width="22.4" height="5.6" fill="#1d00ff"/>
<rect x="1447" y="969.5" width="22.4" height="6.5" fill="#0000fc"/>
<rect x="1447" y="966.5" width="22.4" height="3" fill="#0000c0" opacity="0.6"/>
<rect x="1492.6" y="275.5" width="150.2" height="3.9" fill="#0000b4"/>
<rect x="1492.6" y="279" width="150.2" height="5.2" fill="#0100ff"/>
<rect x="1492.6" y="283.9" width="150.2" height="10.4" fill="#ffc639"/>
<rect x="1492.6" y="283.9" width="150.2" height="1.3" fill="#ff748b" opacity="0.8"/>
<rect x="1492.6" y="293.2" width="150.2" height="1.1" fill="#ff748b" opacity="0.8"/>
<rect x="1492.6" y="251.4" width="150.2" height="3.4" fill="#0000d0"/>
<rect x="1492.6" y="254.6" width="150.2" height="5.6" fill="#3f00ff"/>
<rect x="1492.6" y="969.5" width="150.2" height="6.5" fill="#0000fc"/>
<rect x="1492.6" y="966.5" width="150.2" height="3" fill="#0000c0" opacity="0.6"/>
<rect x="1644.4" y="275.5" width="155.6" height="3.9" fill="#0000b4"/>
<rect x="1644.4" y="279" width="155.6" height="5.2" fill="#0100ff"/>
<rect x="1644.4" y="283.9" width="155.6" height="10.4" fill="#ffc639"/>
<rect x="1644.4" y="283.9" width="155.6" height="1.3" fill="#ff748b" opacity="0.8"/>
<rect x="1644.4" y="293.2" width="155.6" height="1.1" fill="#ff748b" opacity="0.8"/>
<rect x="1644.4" y="251.4" width="155.6" height="3.4" fill="#0000d0"/>
<rect x="1644.4" y="254.6" width="155.6" height="5.6" fill="#3f00ff"/>
<rect x="1644.4" y="969.5" width="155.6" height="6.5" fill="#0000fc"/>
<rect x="1644.4" y="966.5" width="155.6" height="3" fill="#0000c0" opacity="0.6"/>
<rect x="324.3" y="177.4" width="10.7" height="4.6" fill="#0000c0"/>
<rect x="324.3" y="198" width="10.7" height="7.5" fill="#00009c"/>
<rect x="324.3" y="204.8" width="10.7" height="3.6" fill="#0100ff"/>
<rect x="324.3" y="207.8" width="10.7" height="3.1" fill="#6e00ff"/>
<rect x="324.3" y="210.8" width="10.7" height="6.1" fill="#ffe01f"/>
<rect x="324.3" y="211.9" width="10.7" height="4" fill="#fff"/>
<rect x="324.3" y="217" width="10.7" height="4.8" fill="#9d0ef1" opacity="0.85"/>
<rect x="325.5" y="216.8" width="1.5" height="3.8" fill="#ffde21" opacity="0.85"/>
<rect x="331.1" y="216.8" width="1.5" height="3.8" fill="#ffde21" opacity="0.85"/>
<rect x="685.7" y="177.4" width="51.5" height="4.6" fill="#0000c0"/>
<rect x="685.7" y="198" width="51.5" height="7.5" fill="#00009c"/>
<rect x="685.7" y="204.8" width="51.5" height="3.6" fill="#0100ff"/>
<rect x="685.7" y="207.8" width="51.5" height="3.1" fill="#6e00ff"/>
<rect x="685.7" y="210.8" width="51.5" height="6.1" fill="#ffe01f"/>
<rect x="685.7" y="211.9" width="51.5" height="4" fill="#fff"/>
<rect x="685.7" y="217" width="51.5" height="4.8" fill="#9d0ef1" opacity="0.85"/>
<rect x="686.9" y="216.8" width="1.5" height="3.8" fill="#ffde21" opacity="0.85"/>
<rect x="692.5" y="216.8" width="1.5" height="3.8" fill="#ffde21" opacity="0.85"/>
<rect x="698.1" y="216.8" width="1.5" height="3.8" fill="#ffde21" opacity="0.85"/>
<rect x="703.6" y="216.8" width="1.5" height="3.8" fill="#ffde21" opacity="0.85"/>
<rect x="709.2" y="216.8" width="1.5" height="3.8" fill="#ffde21" opacity="0.85"/>
<rect x="714.8" y="216.8" width="1.5" height="3.8" fill="#ffde21" opacity="0.85"/>
<rect x="720.4" y="216.8" width="1.5" height="3.8" fill="#ffde21" opacity="0.85"/>
<rect x="726" y="216.8" width="1.5" height="3.8" fill="#ffde21" opacity="0.85"/>
<rect x="731.5" y="216.8" width="1.5" height="3.8" fill="#ffde21" opacity="0.85"/>
<rect x="762.2" y="177.4" width="15.2" height="4.6" fill="#0000c0"/>
<rect x="762.2" y="198" width="15.2" height="7.5" fill="#00009c"/>
<rect x="762.2" y="204.8" width="15.2" height="3.6" fill="#0100ff"/>
<rect x="762.2" y="207.8" width="15.2" height="3.1" fill="#6e00ff"/>
<rect x="762.2" y="210.8" width="15.2" height="6.1" fill="#ffe01f"/>
<rect x="762.2" y="211.9" width="15.2" height="4" fill="#fff"/>
<rect x="762.2" y="217" width="15.2" height="4.8" fill="#9d0ef1" opacity="0.85"/>
<rect x="763.4" y="216.8" width="1.5" height="3.8" fill="#ffde21" opacity="0.85"/>
<rect x="769" y="216.8" width="1.5" height="3.8" fill="#ffde21" opacity="0.85"/>
<rect x="774.6" y="216.8" width="1.5" height="3.8" fill="#ffde21" opacity="0.85"/>
<rect x="1115.5" y="177.4" width="10.5" height="4.6" fill="#0000c0"/>
<rect x="1115.5" y="198" width="10.5" height="7.5" fill="#00009c"/>
<rect x="1115.5" y="204.8" width="10.5" height="3.6" fill="#0100ff"/>
<rect x="1115.5" y="207.8" width="10.5" height="3.1" fill="#6e00ff"/>
<rect x="1115.5" y="210.8" width="10.5" height="6.1" fill="#ffe01f"/>
<rect x="1115.5" y="211.9" width="10.5" height="4" fill="#fff"/>
<rect x="1115.5" y="217" width="10.5" height="4.8" fill="#9d0ef1" opacity="0.85"/>
<rect x="1116.7" y="216.8" width="1.5" height="3.8" fill="#ffde21" opacity="0.85"/>
<rect x="1122.3" y="216.8" width="1.5" height="3.8" fill="#ffde21" opacity="0.85"/>
<rect x="1258.2" y="177.4" width="33.8" height="4.6" fill="#0000c0"/>
<rect x="1258.2" y="198" width="33.8" height="7.5" fill="#00009c"/>
<rect x="1258.2" y="204.8" width="33.8" height="3.6" fill="#0100ff"/>
<rect x="1258.2" y="207.8" width="33.8" height="3.1" fill="#6e00ff"/>
<rect x="1258.2" y="210.8" width="33.8" height="6.1" fill="#ffe01f"/>
<rect x="1258.2" y="211.9" width="33.8" height="4" fill="#fff"/>
<rect x="1258.2" y="217" width="33.8" height="4.8" fill="#9d0ef1" opacity="0.85"/>
<rect x="1259.4" y="216.8" width="1.5" height="3.8" fill="#ffde21" opacity="0.85"/>
<rect x="1265" y="216.8" width="1.5" height="3.8" fill="#ffde21" opacity="0.85"/>
<rect x="1270.6" y="216.8" width="1.5" height="3.8" fill="#ffde21" opacity="0.85"/>
<rect x="1276.1" y="216.8" width="1.5" height="3.8" fill="#ffde21" opacity="0.85"/>
<rect x="1281.7" y="216.8" width="1.5" height="3.8" fill="#ffde21" opacity="0.85"/>
<rect x="1287.3" y="216.8" width="1.5" height="3.8" fill="#ffde21" opacity="0.85"/>
<rect x="1333" y="177.4" width="55.8" height="4.6" fill="#0000c0"/>
<rect x="1333" y="198" width="55.8" height="7.5" fill="#00009c"/>
<rect x="1333" y="204.8" width="55.8" height="3.6" fill="#0100ff"/>
<rect x="1333" y="207.8" width="55.8" height="3.1" fill="#6e00ff"/>
<rect x="1333" y="210.8" width="55.8" height="6.1" fill="#ffe01f"/>
<rect x="1333" y="211.9" width="55.8" height="4" fill="#fff"/>
<rect x="1333" y="217" width="55.8" height="4.8" fill="#9d0ef1" opacity="0.85"/>
<rect x="1334.2" y="216.8" width="1.5" height="3.8" fill="#ffde21" opacity="0.85"/>
<rect x="1339.8" y="216.8" width="1.5" height="3.8" fill="#ffde21" opacity="0.85"/>
<rect x="1345.4" y="216.8" width="1.5" height="3.8" fill="#ffde21" opacity="0.85"/>
<rect x="1350.9" y="216.8" width="1.5" height="3.8" fill="#ffde21" opacity="0.85"/>
<rect x="1356.5" y="216.8" width="1.5" height="3.8" fill="#ffde21" opacity="0.85"/>
<rect x="1362.1" y="216.8" width="1.5" height="3.8" fill="#ffde21" opacity="0.85"/>
<rect x="1367.7" y="216.8" width="1.5" height="3.8" fill="#ffde21" opacity="0.85"/>
<rect x="1373.3" y="216.8" width="1.5" height="3.8" fill="#ffde21" opacity="0.85"/>
<rect x="1378.8" y="216.8" width="1.5" height="3.8" fill="#ffde21" opacity="0.85"/>
<rect x="1384.4" y="216.8" width="1.5" height="3.8" fill="#ffde21" opacity="0.85"/>
<rect x="1571" y="177.4" width="62.5" height="4.6" fill="#0000c0"/>
<rect x="1571" y="198" width="62.5" height="7.5" fill="#00009c"/>
<rect x="1571" y="204.8" width="62.5" height="3.6" fill="#0100ff"/>
<rect x="1571" y="207.8" width="62.5" height="3.1" fill="#6e00ff"/>
<rect x="1571" y="210.8" width="62.5" height="6.1" fill="#ffe01f"/>
<rect x="1571" y="211.9" width="62.5" height="4" fill="#fff"/>
<rect x="1571" y="217" width="62.5" height="4.8" fill="#9d0ef1" opacity="0.85"/>
<rect x="1572.2" y="216.8" width="1.5" height="3.8" fill="#ffde21" opacity="0.85"/>
<rect x="1577.8" y="216.8" width="1.5" height="3.8" fill="#ffde21" opacity="0.85"/>
<rect x="1583.4" y="216.8" width="1.5" height="3.8" fill="#ffde21" opacity="0.85"/>
<rect x="1588.9" y="216.8" width="1.5" height="3.8" fill="#ffde21" opacity="0.85"/>
<rect x="1594.5" y="216.8" width="1.5" height="3.8" fill="#ffde21" opacity="0.85"/>
<rect x="1600.1" y="216.8" width="1.5" height="3.8" fill="#ffde21" opacity="0.85"/>
<rect x="1605.7" y="216.8" width="1.5" height="3.8" fill="#ffde21" opacity="0.85"/>
<rect x="1611.3" y="216.8" width="1.5" height="3.8" fill="#ffde21" opacity="0.85"/>
<rect x="1616.8" y="216.8" width="1.5" height="3.8" fill="#ffde21" opacity="0.85"/>
<rect x="1622.4" y="216.8" width="1.5" height="3.8" fill="#ffde21" opacity="0.85"/>
<rect x="1628" y="216.8" width="1.5" height="3.8" fill="#ffde21" opacity="0.85"/>
<rect x="1041.5" y="215.4" width="12" height="5.8" fill="#970af5" opacity="0.85"/>
<rect x="1041.5" y="210.5" width="12" height="4.9" fill="#0000f0" opacity="0.6"/>
<rect x="1066.7" y="215.4" width="8.1" height="5.8" fill="#5200ff" opacity="0.85"/>
<rect x="1066.7" y="210.5" width="8.1" height="4.9" fill="#0000f0" opacity="0.6"/>
<rect x="1106.4" y="215.4" width="9.1" height="5.8" fill="#ff847b" opacity="0.85"/>
<rect x="1106.4" y="210.5" width="9.1" height="4.9" fill="#0000f0" opacity="0.6"/>
<rect x="1294.4" y="215.4" width="12.2" height="5.8" fill="#ffa25d" opacity="0.85"/>
<rect x="1294.4" y="210.5" width="12.2" height="4.9" fill="#0000f0" opacity="0.6"/>
<rect x="152" y="436.5" width="6.8" height="3.3" fill="#0000ac" opacity="0.6"/>
<rect x="152" y="439.8" width="6.8" height="5.2" fill="#0000f4"/>
<rect x="152" y="463.5" width="6.8" height="5.3" fill="#0000ac"/>
<rect x="152" y="468.4" width="6.8" height="2.8" fill="#0100ff"/>
<rect x="152" y="470.8" width="6.8" height="2.8" fill="#5b00ff"/>
<rect x="152" y="473.2" width="6.8" height="6.7" fill="#ffd22d"/>
<rect x="152.4" y="474" width="6" height="5.1" fill="#fffe01"/>
<rect x="153.1" y="475.2" width="4.6" height="2.6" fill="#fffff3"/>
<rect x="152" y="943.6" width="6.8" height="8" fill="#0000c8"/>
<rect x="160" y="436.5" width="6" height="3.3" fill="#0000ac" opacity="0.6"/>
<rect x="160" y="439.8" width="6" height="5.2" fill="#0000f4"/>
<rect x="160" y="463.5" width="6" height="5.3" fill="#0000ac"/>
<rect x="160" y="468.4" width="6" height="2.8" fill="#0100ff"/>
<rect x="160" y="470.8" width="6" height="2.8" fill="#5b00ff"/>
<rect x="160" y="473.2" width="6" height="6.7" fill="#ffd22d"/>
<rect x="160.4" y="474" width="5.2" height="5.1" fill="#fffe01"/>
<rect x="161.1" y="475.2" width="3.8" height="2.6" fill="#fffff3"/>
<rect x="160" y="943.6" width="6" height="8" fill="#0000c8"/>
<rect x="167.8" y="436.5" width="8.2" height="3.3" fill="#0000ac" opacity="0.6"/>
<rect x="167.8" y="439.8" width="8.2" height="5.2" fill="#0000f4"/>
<rect x="167.8" y="463.5" width="8.2" height="5.3" fill="#0000ac"/>
<rect x="167.8" y="468.4" width="8.2" height="2.8" fill="#0100ff"/>
<rect x="167.8" y="470.8" width="8.2" height="2.8" fill="#5b00ff"/>
<rect x="167.8" y="473.2" width="8.2" height="6.7" fill="#ffd22d"/>
<rect x="168.2" y="474" width="7.4" height="5.1" fill="#fffe01"/>
<rect x="168.9" y="475.2" width="6" height="2.6" fill="#fffff3"/>
<rect x="167.8" y="943.6" width="8.2" height="8" fill="#0000c8"/>
<rect x="280.6" y="436.5" width="8.1" height="3.3" fill="#0000ac" opacity="0.6"/>
<rect x="280.6" y="439.8" width="8.1" height="5.2" fill="#0000f4"/>
<rect x="280.6" y="463.5" width="8.1" height="5.3" fill="#0000ac"/>
<rect x="280.6" y="468.4" width="8.1" height="2.8" fill="#0100ff"/>
<rect x="280.6" y="470.8" width="8.1" height="2.8" fill="#5b00ff"/>
<rect x="280.6" y="473.2" width="8.1" height="6.7" fill="#ffd22d"/>
<rect x="281" y="474" width="7.3" height="5.1" fill="#fffe01"/>
<rect x="281.7" y="475.2" width="5.9" height="2.6" fill="#fffff3"/>
<rect x="280.6" y="943.6" width="8.1" height="8" fill="#0000c8"/>
<rect x="290.7" y="436.5" width="4.5" height="3.3" fill="#0000ac" opacity="0.6"/>
<rect x="290.7" y="439.8" width="4.5" height="5.2" fill="#0000f4"/>
<rect x="290.7" y="463.5" width="4.5" height="5.3" fill="#0000ac"/>
<rect x="290.7" y="468.4" width="4.5" height="2.8" fill="#0100ff"/>
<rect x="290.7" y="470.8" width="4.5" height="2.8" fill="#5b00ff"/>
<rect x="290.7" y="473.2" width="4.5" height="6.7" fill="#ffd22d"/>
<rect x="291.1" y="474" width="3.7" height="5.1" fill="#fffe01"/>
<rect x="291.8" y="475.2" width="2.3" height="2.6" fill="#fffff3"/>
<rect x="290.7" y="943.6" width="4.5" height="8" fill="#0000c8"/>
<rect x="297.9" y="436.5" width="7.7" height="3.3" fill="#0000ac" opacity="0.6"/>
<rect x="297.9" y="439.8" width="7.7" height="5.2" fill="#0000f4"/>
<rect x="297.9" y="463.5" width="7.7" height="5.3" fill="#0000ac"/>
<rect x="297.9" y="468.4" width="7.7" height="2.8" fill="#0100ff"/>
<rect x="297.9" y="470.8" width="7.7" height="2.8" fill="#5b00ff"/>
<rect x="297.9" y="473.2" width="7.7" height="6.7" fill="#ffd22d"/>
<rect x="298.3" y="474" width="6.9" height="5.1" fill="#fffe01"/>
<rect x="299" y="475.2" width="5.5" height="2.6" fill="#fffff3"/>
<rect x="297.9" y="943.6" width="7.7" height="8" fill="#0000c8"/>
<rect x="307" y="436.5" width="4" height="3.3" fill="#0000ac" opacity="0.6"/>
<rect x="307" y="439.8" width="4" height="5.2" fill="#0000f4"/>
<rect x="307" y="463.5" width="4" height="5.3" fill="#0000ac"/>
<rect x="307" y="468.4" width="4" height="2.8" fill="#0100ff"/>
<rect x="307" y="470.8" width="4" height="2.8" fill="#5b00ff"/>
<rect x="307" y="473.2" width="4" height="6.7" fill="#ffd22d"/>
<rect x="307.4" y="474" width="3.2" height="5.1" fill="#fffe01"/>
<rect x="308.1" y="475.2" width="1.8" height="2.6" fill="#fffff3"/>
<rect x="307" y="943.6" width="4" height="8" fill="#0000c8"/>
<rect x="321.9" y="436.5" width="4.8" height="3.3" fill="#0000ac" opacity="0.6"/>
<rect x="321.9" y="439.8" width="4.8" height="5.2" fill="#0000f4"/>
<rect x="321.9" y="463.5" width="4.8" height="5.3" fill="#0000ac"/>
<rect x="321.9" y="468.4" width="4.8" height="2.8" fill="#0100ff"/>
<rect x="321.9" y="470.8" width="4.8" height="2.8" fill="#5b00ff"/>
<rect x="321.9" y="473.2" width="4.8" height="6.7" fill="#ffd22d"/>
<rect x="322.3" y="474" width="4" height="5.1" fill="#fffe01"/>
<rect x="323" y="475.2" width="2.6" height="2.6" fill="#fffff3"/>
<rect x="321.9" y="943.6" width="4.8" height="8" fill="#0000c8"/>
<rect x="328.8" y="436.5" width="4.6" height="3.3" fill="#0000ac" opacity="0.6"/>
<rect x="328.8" y="439.8" width="4.6" height="5.2" fill="#0000f4"/>
<rect x="328.8" y="463.5" width="4.6" height="5.3" fill="#0000ac"/>
<rect x="328.8" y="468.4" width="4.6" height="2.8" fill="#0100ff"/>
<rect x="328.8" y="470.8" width="4.6" height="2.8" fill="#5b00ff"/>
<rect x="328.8" y="473.2" width="4.6" height="6.7" fill="#ffd22d"/>
<rect x="329.2" y="474" width="3.8" height="5.1" fill="#fffe01"/>
<rect x="329.9" y="475.2" width="2.4" height="2.6" fill="#fffff3"/>
<rect x="328.8" y="943.6" width="4.6" height="8" fill="#0000c8"/>
<rect x="397.9" y="436.5" width="7.7" height="3.3" fill="#0000ac" opacity="0.6"/>
<rect x="397.9" y="439.8" width="7.7" height="5.2" fill="#0000f4"/>
<rect x="397.9" y="463.5" width="7.7" height="5.3" fill="#0000ac"/>
<rect x="397.9" y="468.4" width="7.7" height="2.8" fill="#0100ff"/>
<rect x="397.9" y="470.8" width="7.7" height="2.8" fill="#5b00ff"/>
<rect x="397.9" y="473.2" width="7.7" height="6.7" fill="#ffd22d"/>
<rect x="398.3" y="474" width="6.9" height="5.1" fill="#fffe01"/>
<rect x="399" y="475.2" width="5.5" height="2.6" fill="#fffff3"/>
<rect x="397.9" y="943.6" width="7.7" height="8" fill="#0000c8"/>
<rect x="423.3" y="436.5" width="5.3" height="3.3" fill="#0000ac" opacity="0.6"/>
<rect x="423.3" y="439.8" width="5.3" height="5.2" fill="#0000f4"/>
<rect x="423.3" y="463.5" width="5.3" height="5.3" fill="#0000ac"/>
<rect x="423.3" y="468.4" width="5.3" height="2.8" fill="#0100ff"/>
<rect x="423.3" y="470.8" width="5.3" height="2.8" fill="#5b00ff"/>
<rect x="423.3" y="473.2" width="5.3" height="6.7" fill="#ffd22d"/>
<rect x="423.7" y="474" width="4.5" height="5.1" fill="#fffe01"/>
<rect x="424.4" y="475.2" width="3.1" height="2.6" fill="#fffff3"/>
<rect x="423.3" y="943.6" width="5.3" height="8" fill="#0000c8"/>
<rect x="447.9" y="436.5" width="2.4" height="3.3" fill="#0000ac" opacity="0.6"/>
<rect x="447.9" y="439.8" width="2.4" height="5.2" fill="#0000f4"/>
<rect x="447.9" y="463.5" width="2.4" height="5.3" fill="#0000ac"/>
<rect x="447.9" y="468.4" width="2.4" height="2.8" fill="#0100ff"/>
<rect x="447.9" y="470.8" width="2.4" height="2.8" fill="#5b00ff"/>
<rect x="447.9" y="473.2" width="2.4" height="6.7" fill="#ffd22d"/>
<rect x="448.3" y="474" width="1.6" height="5.1" fill="#fffe01"/>
<rect x="447.9" y="943.6" width="2.4" height="8" fill="#0000c8"/>
<rect x="452.8" y="436.5" width="6.7" height="3.3" fill="#0000ac" opacity="0.6"/>
<rect x="452.8" y="439.8" width="6.7" height="5.2" fill="#0000f4"/>
<rect x="452.8" y="463.5" width="6.7" height="5.3" fill="#0000ac"/>
<rect x="452.8" y="468.4" width="6.7" height="2.8" fill="#0100ff"/>
<rect x="452.8" y="470.8" width="6.7" height="2.8" fill="#5b00ff"/>
<rect x="452.8" y="473.2" width="6.7" height="6.7" fill="#ffd22d"/>
<rect x="453.2" y="474" width="5.9" height="5.1" fill="#fffe01"/>
<rect x="453.9" y="475.2" width="4.5" height="2.6" fill="#fffff3"/>
<rect x="452.8" y="943.6" width="6.7" height="8" fill="#0000c8"/>
<rect x="535.7" y="436.5" width="5.3" height="3.3" fill="#0000ac" opacity="0.6"/>
<rect x="535.7" y="439.8" width="5.3" height="5.2" fill="#0000f4"/>
<rect x="535.7" y="463.5" width="5.3" height="5.3" fill="#0000ac"/>
<rect x="535.7" y="468.4" width="5.3" height="2.8" fill="#0100ff"/>
<rect x="535.7" y="470.8" width="5.3" height="2.8" fill="#5b00ff"/>
<rect x="535.7" y="473.2" width="5.3" height="6.7" fill="#ffd22d"/>
<rect x="536.1" y="474" width="4.5" height="5.1" fill="#fffe01"/>
<rect x="536.8" y="475.2" width="3.1" height="2.6" fill="#fffff3"/>
<rect x="535.7" y="943.6" width="5.3" height="8" fill="#0000c8"/>
<rect x="546" y="436.5" width="4.1" height="3.3" fill="#0000ac" opacity="0.6"/>
<rect x="546" y="439.8" width="4.1" height="5.2" fill="#0000f4"/>
<rect x="546" y="463.5" width="4.1" height="5.3" fill="#0000ac"/>
<rect x="546" y="468.4" width="4.1" height="2.8" fill="#0100ff"/>
<rect x="546" y="470.8" width="4.1" height="2.8" fill="#5b00ff"/>
<rect x="546" y="473.2" width="4.1" height="6.7" fill="#ffd22d"/>
<rect x="546.4" y="474" width="3.3" height="5.1" fill="#fffe01"/>
<rect x="547.1" y="475.2" width="1.9" height="2.6" fill="#fffff3"/>
<rect x="546" y="943.6" width="4.1" height="8" fill="#0000c8"/>
<rect x="552.2" y="436.5" width="3.6" height="3.3" fill="#0000ac" opacity="0.6"/>
<rect x="552.2" y="439.8" width="3.6" height="5.2" fill="#0000f4"/>
<rect x="552.2" y="463.5" width="3.6" height="5.3" fill="#0000ac"/>
<rect x="552.2" y="468.4" width="3.6" height="2.8" fill="#0100ff"/>
<rect x="552.2" y="470.8" width="3.6" height="2.8" fill="#5b00ff"/>
<rect x="552.2" y="473.2" width="3.6" height="6.7" fill="#ffd22d"/>
<rect x="552.6" y="474" width="2.8" height="5.1" fill="#fffe01"/>
<rect x="553.3" y="475.2" width="1.4" height="2.6" fill="#fffff3"/>
<rect x="552.2" y="943.6" width="3.6" height="8" fill="#0000c8"/>
<rect x="637" y="436.5" width="14.8" height="3.3" fill="#0000ac" opacity="0.6"/>
<rect x="637" y="439.8" width="14.8" height="5.2" fill="#0000f4"/>
<rect x="637" y="463.5" width="14.8" height="5.3" fill="#0000ac"/>
<rect x="637" y="468.4" width="14.8" height="2.8" fill="#0100ff"/>
<rect x="637" y="470.8" width="14.8" height="2.8" fill="#5b00ff"/>
<rect x="637" y="473.2" width="14.8" height="6.7" fill="#ffd22d"/>
<rect x="637.4" y="474" width="14" height="5.1" fill="#fffe01"/>
<rect x="638.1" y="475.2" width="12.6" height="2.6" fill="#fffff3"/>
<rect x="637" y="943.6" width="14.8" height="8" fill="#0000c8"/>
<rect x="654.8" y="436.5" width="7.8" height="3.3" fill="#0000ac" opacity="0.6"/>
<rect x="654.8" y="439.8" width="7.8" height="5.2" fill="#0000f4"/>
<rect x="654.8" y="463.5" width="7.8" height="5.3" fill="#0000ac"/>
<rect x="654.8" y="468.4" width="7.8" height="2.8" fill="#0100ff"/>
<rect x="654.8" y="470.8" width="7.8" height="2.8" fill="#5b00ff"/>
<rect x="654.8" y="473.2" width="7.8" height="6.7" fill="#ffd22d"/>
<rect x="655.2" y="474" width="7" height="5.1" fill="#fffe01"/>
<rect x="655.9" y="475.2" width="5.6" height="2.6" fill="#fffff3"/>
<rect x="654.8" y="943.6" width="7.8" height="8" fill="#0000c8"/>
<rect x="664.4" y="436.5" width="4.7" height="3.3" fill="#0000ac" opacity="0.6"/>
<rect x="664.4" y="439.8" width="4.7" height="5.2" fill="#0000f4"/>
<rect x="664.4" y="463.5" width="4.7" height="5.3" fill="#0000ac"/>
<rect x="664.4" y="468.4" width="4.7" height="2.8" fill="#0100ff"/>
<rect x="664.4" y="470.8" width="4.7" height="2.8" fill="#5b00ff"/>
<rect x="664.4" y="473.2" width="4.7" height="6.7" fill="#ffd22d"/>
<rect x="664.8" y="474" width="3.9" height="5.1" fill="#fffe01"/>
<rect x="665.5" y="475.2" width="2.5" height="2.6" fill="#fffff3"/>
<rect x="664.4" y="943.6" width="4.7" height="8" fill="#0000c8"/>
<rect x="672.1" y="436.5" width="8.2" height="3.3" fill="#0000ac" opacity="0.6"/>
<rect x="672.1" y="439.8" width="8.2" height="5.2" fill="#0000f4"/>
<rect x="672.1" y="463.5" width="8.2" height="5.3" fill="#0000ac"/>
<rect x="672.1" y="468.4" width="8.2" height="2.8" fill="#0100ff"/>
<rect x="672.1" y="470.8" width="8.2" height="2.8" fill="#5b00ff"/>
<rect x="672.1" y="473.2" width="8.2" height="6.7" fill="#ffd22d"/>
<rect x="672.5" y="474" width="7.4" height="5.1" fill="#fffe01"/>
<rect x="673.2" y="475.2" width="6" height="2.6" fill="#fffff3"/>
<rect x="672.1" y="943.6" width="8.2" height="8" fill="#0000c8"/>
<rect x="683.3" y="436.5" width="6.7" height="3.3" fill="#0000ac" opacity="0.6"/>
<rect x="683.3" y="439.8" width="6.7" height="5.2" fill="#0000f4"/>
<rect x="683.3" y="463.5" width="6.7" height="5.3" fill="#0000ac"/>
<rect x="683.3" y="468.4" width="6.7" height="2.8" fill="#0100ff"/>
<rect x="683.3" y="470.8" width="6.7" height="2.8" fill="#5b00ff"/>
<rect x="683.3" y="473.2" width="6.7" height="6.7" fill="#ffd22d"/>
<rect x="683.7" y="474" width="5.9" height="5.1" fill="#fffe01"/>
<rect x="684.4" y="475.2" width="4.5" height="2.6" fill="#fffff3"/>
<rect x="683.3" y="943.6" width="6.7" height="8" fill="#0000c8"/>
<rect x="695.1" y="436.5" width="8.5" height="3.3" fill="#0000ac" opacity="0.6"/>
<rect x="695.1" y="439.8" width="8.5" height="5.2" fill="#0000f4"/>
<rect x="695.1" y="463.5" width="8.5" height="5.3" fill="#0000ac"/>
<rect x="695.1" y="468.4" width="8.5" height="2.8" fill="#0100ff"/>
<rect x="695.1" y="470.8" width="8.5" height="2.8" fill="#5b00ff"/>
<rect x="695.1" y="473.2" width="8.5" height="6.7" fill="#ffd22d"/>
<rect x="695.5" y="474" width="7.7" height="5.1" fill="#fffe01"/>
<rect x="696.2" y="475.2" width="6.3" height="2.6" fill="#fffff3"/>
<rect x="695.1" y="943.6" width="8.5" height="8" fill="#0000c8"/>
<rect x="707.3" y="436.5" width="8.5" height="3.3" fill="#0000ac" opacity="0.6"/>
<rect x="707.3" y="439.8" width="8.5" height="5.2" fill="#0000f4"/>
<rect x="707.3" y="463.5" width="8.5" height="5.3" fill="#0000ac"/>
<rect x="707.3" y="468.4" width="8.5" height="2.8" fill="#0100ff"/>
<rect x="707.3" y="470.8" width="8.5" height="2.8" fill="#5b00ff"/>
<rect x="707.3" y="473.2" width="8.5" height="6.7" fill="#ffd22d"/>
<rect x="707.7" y="474" width="7.7" height="5.1" fill="#fffe01"/>
<rect x="708.4" y="475.2" width="6.3" height="2.6" fill="#fffff3"/>
<rect x="707.3" y="943.6" width="8.5" height="8" fill="#0000c8"/>
<rect x="718.3" y="436.5" width="4.7" height="3.3" fill="#0000ac" opacity="0.6"/>
<rect x="718.3" y="439.8" width="4.7" height="5.2" fill="#0000f4"/>
<rect x="718.3" y="463.5" width="4.7" height="5.3" fill="#0000ac"/>
<rect x="718.3" y="468.4" width="4.7" height="2.8" fill="#0100ff"/>
<rect x="718.3" y="470.8" width="4.7" height="2.8" fill="#5b00ff"/>
<rect x="718.3" y="473.2" width="4.7" height="6.7" fill="#ffd22d"/>
<rect x="718.7" y="474" width="3.9" height="5.1" fill="#fffe01"/>
<rect x="719.4" y="475.2" width="2.5" height="2.6" fill="#fffff3"/>
<rect x="718.3" y="943.6" width="4.7" height="8" fill="#0000c8"/>
<rect x="775.8" y="436.5" width="7.1" height="3.3" fill="#0000ac" opacity="0.6"/>
<rect x="775.8" y="439.8" width="7.1" height="5.2" fill="#0000f4"/>
<rect x="775.8" y="463.5" width="7.1" height="5.3" fill="#0000ac"/>
<rect x="775.8" y="468.4" width="7.1" height="2.8" fill="#0100ff"/>
<rect x="775.8" y="470.8" width="7.1" height="2.8" fill="#5b00ff"/>
<rect x="775.8" y="473.2" width="7.1" height="6.7" fill="#ffd22d"/>
<rect x="776.2" y="474" width="6.3" height="5.1" fill="#fffe01"/>
<rect x="776.9" y="475.2" width="4.9" height="2.6" fill="#fffff3"/>
<rect x="775.8" y="943.6" width="7.1" height="8" fill="#0000c8"/>
<rect x="784.3" y="436.5" width="5.3" height="3.3" fill="#0000ac" opacity="0.6"/>
<rect x="784.3" y="439.8" width="5.3" height="5.2" fill="#0000f4"/>
<rect x="784.3" y="463.5" width="5.3" height="5.3" fill="#0000ac"/>
<rect x="784.3" y="468.4" width="5.3" height="2.8" fill="#0100ff"/>
<rect x="784.3" y="470.8" width="5.3" height="2.8" fill="#5b00ff"/>
<rect x="784.3" y="473.2" width="5.3" height="6.7" fill="#ffd22d"/>
<rect x="784.7" y="474" width="4.5" height="5.1" fill="#fffe01"/>
<rect x="785.4" y="475.2" width="3.1" height="2.6" fill="#fffff3"/>
<rect x="784.3" y="943.6" width="5.3" height="8" fill="#0000c8"/>
<rect x="804.7" y="436.5" width="12.2" height="3.3" fill="#0000ac" opacity="0.6"/>
<rect x="804.7" y="439.8" width="12.2" height="5.2" fill="#0000f4"/>
<rect x="804.7" y="463.5" width="12.2" height="5.3" fill="#0000ac"/>
<rect x="804.7" y="468.4" width="12.2" height="2.8" fill="#0100ff"/>
<rect x="804.7" y="470.8" width="12.2" height="2.8" fill="#5b00ff"/>
<rect x="804.7" y="473.2" width="12.2" height="6.7" fill="#ffd22d"/>
<rect x="805.1" y="474" width="11.4" height="5.1" fill="#fffe01"/>
<rect x="805.8" y="475.2" width="10" height="2.6" fill="#fffff3"/>
<rect x="804.7" y="943.6" width="12.2" height="8" fill="#0000c8"/>
<rect x="899.2" y="436.5" width="3.7" height="3.3" fill="#0000ac" opacity="0.6"/>
<rect x="899.2" y="439.8" width="3.7" height="5.2" fill="#0000f4"/>
<rect x="899.2" y="463.5" width="3.7" height="5.3" fill="#0000ac"/>
<rect x="899.2" y="468.4" width="3.7" height="2.8" fill="#0100ff"/>
<rect x="899.2" y="470.8" width="3.7" height="2.8" fill="#5b00ff"/>
<rect x="899.2" y="473.2" width="3.7" height="6.7" fill="#ffd22d"/>
<rect x="899.6" y="474" width="2.9" height="5.1" fill="#fffe01"/>
<rect x="900.3" y="475.2" width="1.5" height="2.6" fill="#fffff3"/>
<rect x="899.2" y="943.6" width="3.7" height="8" fill="#0000c8"/>
<rect x="904.5" y="436.5" width="6.5" height="3.3" fill="#0000ac" opacity="0.6"/>
<rect x="904.5" y="439.8" width="6.5" height="5.2" fill="#0000f4"/>
<rect x="904.5" y="463.5" width="6.5" height="5.3" fill="#0000ac"/>
<rect x="904.5" y="468.4" width="6.5" height="2.8" fill="#0100ff"/>
<rect x="904.5" y="470.8" width="6.5" height="2.8" fill="#5b00ff"/>
<rect x="904.5" y="473.2" width="6.5" height="6.7" fill="#ffd22d"/>
<rect x="904.9" y="474" width="5.7" height="5.1" fill="#fffe01"/>
<rect x="905.6" y="475.2" width="4.3" height="2.6" fill="#fffff3"/>
<rect x="904.5" y="943.6" width="6.5" height="8" fill="#0000c8"/>
<rect x="912.4" y="436.5" width="2.7" height="3.3" fill="#0000ac" opacity="0.6"/>
<rect x="912.4" y="439.8" width="2.7" height="5.2" fill="#0000f4"/>
<rect x="912.4" y="463.5" width="2.7" height="5.3" fill="#0000ac"/>
<rect x="912.4" y="468.4" width="2.7" height="2.8" fill="#0100ff"/>
<rect x="912.4" y="470.8" width="2.7" height="2.8" fill="#5b00ff"/>
<rect x="912.4" y="473.2" width="2.7" height="6.7" fill="#ffd22d"/>
<rect x="912.8" y="474" width="1.9" height="5.1" fill="#fffe01"/>
<rect x="912.4" y="943.6" width="2.7" height="8" fill="#0000c8"/>
<rect x="968.7" y="436.5" width="6.9" height="3.3" fill="#0000ac" opacity="0.6"/>
<rect x="968.7" y="439.8" width="6.9" height="5.2" fill="#0000f4"/>
<rect x="968.7" y="463.5" width="6.9" height="5.3" fill="#0000ac"/>
<rect x="968.7" y="468.4" width="6.9" height="2.8" fill="#0100ff"/>
<rect x="968.7" y="470.8" width="6.9" height="2.8" fill="#5b00ff"/>
<rect x="968.7" y="473.2" width="6.9" height="6.7" fill="#ffd22d"/>
<rect x="969.1" y="474" width="6.1" height="5.1" fill="#fffe01"/>
<rect x="969.8" y="475.2" width="4.7" height="2.6" fill="#fffff3"/>
<rect x="968.7" y="943.6" width="6.9" height="8" fill="#0000c8"/>
<rect x="979.9" y="436.5" width="2.1" height="3.3" fill="#0000ac" opacity="0.6"/>
<rect x="979.9" y="439.8" width="2.1" height="5.2" fill="#0000f4"/>
<rect x="979.9" y="463.5" width="2.1" height="5.3" fill="#0000ac"/>
<rect x="979.9" y="468.4" width="2.1" height="2.8" fill="#0100ff"/>
<rect x="979.9" y="470.8" width="2.1" height="2.8" fill="#5b00ff"/>
<rect x="979.9" y="473.2" width="2.1" height="6.7" fill="#ffd22d"/>
<rect x="980.3" y="474" width="1.3" height="5.1" fill="#fffe01"/>
<rect x="979.9" y="943.6" width="2.1" height="8" fill="#0000c8"/>
<rect x="1011.8" y="436.5" width="6.5" height="3.3" fill="#0000ac" opacity="0.6"/>
<rect x="1011.8" y="439.8" width="6.5" height="5.2" fill="#0000f4"/>
<rect x="1011.8" y="463.5" width="6.5" height="5.3" fill="#0000ac"/>
<rect x="1011.8" y="468.4" width="6.5" height="2.8" fill="#0100ff"/>
<rect x="1011.8" y="470.8" width="6.5" height="2.8" fill="#5b00ff"/>
<rect x="1011.8" y="473.2" width="6.5" height="6.7" fill="#ffd22d"/>
<rect x="1012.2" y="474" width="5.7" height="5.1" fill="#fffe01"/>
<rect x="1012.9" y="475.2" width="4.3" height="2.6" fill="#fffff3"/>
<rect x="1011.8" y="943.6" width="6.5" height="8" fill="#0000c8"/>
<rect x="1021" y="436.5" width="5" height="3.3" fill="#0000ac" opacity="0.6"/>
<rect x="1021" y="439.8" width="5" height="5.2" fill="#0000f4"/>
<rect x="1021" y="463.5" width="5" height="5.3" fill="#0000ac"/>
<rect x="1021" y="468.4" width="5" height="2.8" fill="#0100ff"/>
<rect x="1021" y="470.8" width="5" height="2.8" fill="#5b00ff"/>
<rect x="1021" y="473.2" width="5" height="6.7" fill="#ffd22d"/>
<rect x="1021.4" y="474" width="4.2" height="5.1" fill="#fffe01"/>
<rect x="1022.1" y="475.2" width="2.8" height="2.6" fill="#fffff3"/>
<rect x="1021" y="943.6" width="5" height="8" fill="#0000c8"/>
<rect x="1027.7" y="436.5" width="1.8" height="3.3" fill="#0000ac" opacity="0.6"/>
<rect x="1027.7" y="439.8" width="1.8" height="5.2" fill="#0000f4"/>
<rect x="1027.7" y="463.5" width="1.8" height="5.3" fill="#0000ac"/>
<rect x="1027.7" y="468.4" width="1.8" height="2.8" fill="#0100ff"/>
<rect x="1027.7" y="470.8" width="1.8" height="2.8" fill="#5b00ff"/>
<rect x="1027.7" y="473.2" width="1.8" height="6.7" fill="#ffd22d"/>
<rect x="1028.1" y="474" width="1" height="5.1" fill="#fffe01"/>
<rect x="1027.7" y="943.6" width="1.8" height="8" fill="#0000c8"/>
<rect x="1076.9" y="436.5" width="7.7" height="3.3" fill="#0000ac" opacity="0.6"/>
<rect x="1076.9" y="439.8" width="7.7" height="5.2" fill="#0000f4"/>
<rect x="1076.9" y="463.5" width="7.7" height="5.3" fill="#0000ac"/>
<rect x="1076.9" y="468.4" width="7.7" height="2.8" fill="#0100ff"/>
<rect x="1076.9" y="470.8" width="7.7" height="2.8" fill="#5b00ff"/>
<rect x="1076.9" y="473.2" width="7.7" height="6.7" fill="#ffd22d"/>
<rect x="1077.3" y="474" width="6.9" height="5.1" fill="#fffe01"/>
<rect x="1078" y="475.2" width="5.5" height="2.6" fill="#fffff3"/>
<rect x="1076.9" y="943.6" width="7.7" height="8" fill="#0000c8"/>
<rect x="1088" y="436.5" width="8.2" height="3.3" fill="#0000ac" opacity="0.6"/>
<rect x="1088" y="439.8" width="8.2" height="5.2" fill="#0000f4"/>
<rect x="1088" y="463.5" width="8.2" height="5.3" fill="#0000ac"/>
<rect x="1088" y="468.4" width="8.2" height="2.8" fill="#0100ff"/>
<rect x="1088" y="470.8" width="8.2" height="2.8" fill="#5b00ff"/>
<rect x="1088" y="473.2" width="8.2" height="6.7" fill="#ffd22d"/>
<rect x="1088.4" y="474" width="7.4" height="5.1" fill="#fffe01"/>
<rect x="1089.1" y="475.2" width="6" height="2.6" fill="#fffff3"/>
<rect x="1088" y="943.6" width="8.2" height="8" fill="#0000c8"/>
<rect x="1097.6" y="436.5" width="4.7" height="3.3" fill="#0000ac" opacity="0.6"/>
<rect x="1097.6" y="439.8" width="4.7" height="5.2" fill="#0000f4"/>
<rect x="1097.6" y="463.5" width="4.7" height="5.3" fill="#0000ac"/>
<rect x="1097.6" y="468.4" width="4.7" height="2.8" fill="#0100ff"/>
<rect x="1097.6" y="470.8" width="4.7" height="2.8" fill="#5b00ff"/>
<rect x="1097.6" y="473.2" width="4.7" height="6.7" fill="#ffd22d"/>
<rect x="1098" y="474" width="3.9" height="5.1" fill="#fffe01"/>
<rect x="1098.7" y="475.2" width="2.5" height="2.6" fill="#fffff3"/>
<rect x="1097.6" y="943.6" width="4.7" height="8" fill="#0000c8"/>
<rect x="1130.1" y="436.5" width="7.8" height="3.3" fill="#0000ac" opacity="0.6"/>
<rect x="1130.1" y="439.8" width="7.8" height="5.2" fill="#0000f4"/>
<rect x="1130.1" y="463.5" width="7.8" height="5.3" fill="#0000ac"/>
<rect x="1130.1" y="468.4" width="7.8" height="2.8" fill="#0100ff"/>
<rect x="1130.1" y="470.8" width="7.8" height="2.8" fill="#5b00ff"/>
<rect x="1130.1" y="473.2" width="7.8" height="6.7" fill="#ffd22d"/>
<rect x="1130.5" y="474" width="7" height="5.1" fill="#fffe01"/>
<rect x="1131.2" y="475.2" width="5.6" height="2.6" fill="#fffff3"/>
<rect x="1130.1" y="943.6" width="7.8" height="8" fill="#0000c8"/>
<rect x="1139.3" y="436.5" width="10.7" height="3.3" fill="#0000ac" opacity="0.6"/>
<rect x="1139.3" y="439.8" width="10.7" height="5.2" fill="#0000f4"/>
<rect x="1139.3" y="463.5" width="10.7" height="5.3" fill="#0000ac"/>
<rect x="1139.3" y="468.4" width="10.7" height="2.8" fill="#0100ff"/>
<rect x="1139.3" y="470.8" width="10.7" height="2.8" fill="#5b00ff"/>
<rect x="1139.3" y="473.2" width="10.7" height="6.7" fill="#ffd22d"/>
<rect x="1139.7" y="474" width="9.9" height="5.1" fill="#fffe01"/>
<rect x="1140.4" y="475.2" width="8.5" height="2.6" fill="#fffff3"/>
<rect x="1139.3" y="943.6" width="10.7" height="8" fill="#0000c8"/>
<rect x="1152" y="436.5" width="12.9" height="3.3" fill="#0000ac" opacity="0.6"/>
<rect x="1152" y="439.8" width="12.9" height="5.2" fill="#0000f4"/>
<rect x="1152" y="463.5" width="12.9" height="5.3" fill="#0000ac"/>
<rect x="1152" y="468.4" width="12.9" height="2.8" fill="#0100ff"/>
<rect x="1152" y="470.8" width="12.9" height="2.8" fill="#5b00ff"/>
<rect x="1152" y="473.2" width="12.9" height="6.7" fill="#ffd22d"/>
<rect x="1152.4" y="474" width="12.1" height="5.1" fill="#fffe01"/>
<rect x="1153.1" y="475.2" width="10.7" height="2.6" fill="#fffff3"/>
<rect x="1152" y="943.6" width="12.9" height="8" fill="#0000c8"/>
<rect x="1198.8" y="436.5" width="7.2" height="3.3" fill="#0000ac" opacity="0.6"/>
<rect x="1198.8" y="439.8" width="7.2" height="5.2" fill="#0000f4"/>
<rect x="1198.8" y="463.5" width="7.2" height="5.3" fill="#0000ac"/>
<rect x="1198.8" y="468.4" width="7.2" height="2.8" fill="#0100ff"/>
<rect x="1198.8" y="470.8" width="7.2" height="2.8" fill="#5b00ff"/>
<rect x="1198.8" y="473.2" width="7.2" height="6.7" fill="#ffd22d"/>
<rect x="1199.2" y="474" width="6.4" height="5.1" fill="#fffe01"/>
<rect x="1199.9" y="475.2" width="5" height="2.6" fill="#fffff3"/>
<rect x="1198.8" y="943.6" width="7.2" height="8" fill="#0000c8"/>
<rect x="1220.8" y="436.5" width="11.2" height="3.3" fill="#0000ac" opacity="0.6"/>
<rect x="1220.8" y="439.8" width="11.2" height="5.2" fill="#0000f4"/>
<rect x="1220.8" y="463.5" width="11.2" height="5.3" fill="#0000ac"/>
<rect x="1220.8" y="468.4" width="11.2" height="2.8" fill="#0100ff"/>
<rect x="1220.8" y="470.8" width="11.2" height="2.8" fill="#5b00ff"/>
<rect x="1220.8" y="473.2" width="11.2" height="6.7" fill="#ffd22d"/>
<rect x="1221.2" y="474" width="10.4" height="5.1" fill="#fffe01"/>
<rect x="1221.9" y="475.2" width="9" height="2.6" fill="#fffff3"/>
<rect x="1220.8" y="943.6" width="11.2" height="8" fill="#0000c8"/>
<rect x="1234" y="436.5" width="9.2" height="3.3" fill="#0000ac" opacity="0.6"/>
<rect x="1234" y="439.8" width="9.2" height="5.2" fill="#0000f4"/>
<rect x="1234" y="463.5" width="9.2" height="5.3" fill="#0000ac"/>
<rect x="1234" y="468.4" width="9.2" height="2.8" fill="#0100ff"/>
<rect x="1234" y="470.8" width="9.2" height="2.8" fill="#5b00ff"/>
<rect x="1234" y="473.2" width="9.2" height="6.7" fill="#ffd22d"/>
<rect x="1234.4" y="474" width="8.4" height="5.1" fill="#fffe01"/>
<rect x="1235.1" y="475.2" width="7" height="2.6" fill="#fffff3"/>
<rect x="1234" y="943.6" width="9.2" height="8" fill="#0000c8"/>
<rect x="1244.6" y="436.5" width="5.4" height="3.3" fill="#0000ac" opacity="0.6"/>
<rect x="1244.6" y="439.8" width="5.4" height="5.2" fill="#0000f4"/>
<rect x="1244.6" y="463.5" width="5.4" height="5.3" fill="#0000ac"/>
<rect x="1244.6" y="468.4" width="5.4" height="2.8" fill="#0100ff"/>
<rect x="1244.6" y="470.8" width="5.4" height="2.8" fill="#5b00ff"/>
<rect x="1244.6" y="473.2" width="5.4" height="6.7" fill="#ffd22d"/>
<rect x="1245" y="474" width="4.6" height="5.1" fill="#fffe01"/>
<rect x="1245.7" y="475.2" width="3.2" height="2.6" fill="#fffff3"/>
<rect x="1244.6" y="943.6" width="5.4" height="8" fill="#0000c8"/>
<rect x="1257.2" y="436.5" width="6.1" height="3.3" fill="#0000ac" opacity="0.6"/>
<rect x="1257.2" y="439.8" width="6.1" height="5.2" fill="#0000f4"/>
<rect x="1257.2" y="463.5" width="6.1" height="5.3" fill="#0000ac"/>
<rect x="1257.2" y="468.4" width="6.1" height="2.8" fill="#0100ff"/>
<rect x="1257.2" y="470.8" width="6.1" height="2.8" fill="#5b00ff"/>
<rect x="1257.2" y="473.2" width="6.1" height="6.7" fill="#ffd22d"/>
<rect x="1257.6" y="474" width="5.3" height="5.1" fill="#fffe01"/>
<rect x="1258.3" y="475.2" width="3.9" height="2.6" fill="#fffff3"/>
<rect x="1257.2" y="943.6" width="6.1" height="8" fill="#0000c8"/>
<rect x="1264.9" y="436.5" width="4.1" height="3.3" fill="#0000ac" opacity="0.6"/>
<rect x="1264.9" y="439.8" width="4.1" height="5.2" fill="#0000f4"/>
<rect x="1264.9" y="463.5" width="4.1" height="5.3" fill="#0000ac"/>
<rect x="1264.9" y="468.4" width="4.1" height="2.8" fill="#0100ff"/>
<rect x="1264.9" y="470.8" width="4.1" height="2.8" fill="#5b00ff"/>
<rect x="1264.9" y="473.2" width="4.1" height="6.7" fill="#ffd22d"/>
<rect x="1265.3" y="474" width="3.3" height="5.1" fill="#fffe01"/>
<rect x="1266" y="475.2" width="1.9" height="2.6" fill="#fffff3"/>
<rect x="1264.9" y="943.6" width="4.1" height="8" fill="#0000c8"/>
<rect x="1433.9" y="436.5" width="7.7" height="3.3" fill="#0000ac" opacity="0.6"/>
<rect x="1433.9" y="439.8" width="7.7" height="5.2" fill="#0000f4"/>
<rect x="1433.9" y="463.5" width="7.7" height="5.3" fill="#0000ac"/>
<rect x="1433.9" y="468.4" width="7.7" height="2.8" fill="#0100ff"/>
<rect x="1433.9" y="470.8" width="7.7" height="2.8" fill="#5b00ff"/>
<rect x="1433.9" y="473.2" width="7.7" height="6.7" fill="#ffd22d"/>
<rect x="1434.3" y="474" width="6.9" height="5.1" fill="#fffe01"/>
<rect x="1435" y="475.2" width="5.5" height="2.6" fill="#fffff3"/>
<rect x="1433.9" y="943.6" width="7.7" height="8" fill="#0000c8"/>
<rect x="1444" y="436.5" width="9.2" height="3.3" fill="#0000ac" opacity="0.6"/>
<rect x="1444" y="439.8" width="9.2" height="5.2" fill="#0000f4"/>
<rect x="1444" y="463.5" width="9.2" height="5.3" fill="#0000ac"/>
<rect x="1444" y="468.4" width="9.2" height="2.8" fill="#0100ff"/>
<rect x="1444" y="470.8" width="9.2" height="2.8" fill="#5b00ff"/>
<rect x="1444" y="473.2" width="9.2" height="6.7" fill="#ffd22d"/>
<rect x="1444.4" y="474" width="8.4" height="5.1" fill="#fffe01"/>
<rect x="1445.1" y="475.2" width="7" height="2.6" fill="#fffff3"/>
<rect x="1444" y="943.6" width="9.2" height="8" fill="#0000c8"/>
<rect x="1454.2" y="436.5" width="4.7" height="3.3" fill="#0000ac" opacity="0.6"/>
<rect x="1454.2" y="439.8" width="4.7" height="5.2" fill="#0000f4"/>
<rect x="1454.2" y="463.5" width="4.7" height="5.3" fill="#0000ac"/>
<rect x="1454.2" y="468.4" width="4.7" height="2.8" fill="#0100ff"/>
<rect x="1454.2" y="470.8" width="4.7" height="2.8" fill="#5b00ff"/>
<rect x="1454.2" y="473.2" width="4.7" height="6.7" fill="#ffd22d"/>
<rect x="1454.6" y="474" width="3.9" height="5.1" fill="#fffe01"/>
<rect x="1455.3" y="475.2" width="2.5" height="2.6" fill="#fffff3"/>
<rect x="1454.2" y="943.6" width="4.7" height="8" fill="#0000c8"/>
<rect x="1478.2" y="436.5" width="11.6" height="3.3" fill="#0000ac" opacity="0.6"/>
<rect x="1478.2" y="439.8" width="11.6" height="5.2" fill="#0000f4"/>
<rect x="1478.2" y="463.5" width="11.6" height="5.3" fill="#0000ac"/>
<rect x="1478.2" y="468.4" width="11.6" height="2.8" fill="#0100ff"/>
<rect x="1478.2" y="470.8" width="11.6" height="2.8" fill="#5b00ff"/>
<rect x="1478.2" y="473.2" width="11.6" height="6.7" fill="#ffd22d"/>
<rect x="1478.6" y="474" width="10.8" height="5.1" fill="#fffe01"/>
<rect x="1479.3" y="475.2" width="9.4" height="2.6" fill="#fffff3"/>
<rect x="1478.2" y="943.6" width="11.6" height="8" fill="#0000c8"/>
<rect x="1491.4" y="436.5" width="6.9" height="3.3" fill="#0000ac" opacity="0.6"/>
<rect x="1491.4" y="439.8" width="6.9" height="5.2" fill="#0000f4"/>
<rect x="1491.4" y="463.5" width="6.9" height="5.3" fill="#0000ac"/>
<rect x="1491.4" y="468.4" width="6.9" height="2.8" fill="#0100ff"/>
<rect x="1491.4" y="470.8" width="6.9" height="2.8" fill="#5b00ff"/>
<rect x="1491.4" y="473.2" width="6.9" height="6.7" fill="#ffd22d"/>
<rect x="1491.8" y="474" width="6.1" height="5.1" fill="#fffe01"/>
<rect x="1492.5" y="475.2" width="4.7" height="2.6" fill="#fffff3"/>
<rect x="1491.4" y="943.6" width="6.9" height="8" fill="#0000c8"/>
<rect x="1573.1" y="436.5" width="7.7" height="3.3" fill="#0000ac" opacity="0.6"/>
<rect x="1573.1" y="439.8" width="7.7" height="5.2" fill="#0000f4"/>
<rect x="1573.1" y="463.5" width="7.7" height="5.3" fill="#0000ac"/>
<rect x="1573.1" y="468.4" width="7.7" height="2.8" fill="#0100ff"/>
<rect x="1573.1" y="470.8" width="7.7" height="2.8" fill="#5b00ff"/>
<rect x="1573.1" y="473.2" width="7.7" height="6.7" fill="#ffd22d"/>
<rect x="1573.5" y="474" width="6.9" height="5.1" fill="#fffe01"/>
<rect x="1574.2" y="475.2" width="5.5" height="2.6" fill="#fffff3"/>
<rect x="1573.1" y="943.6" width="7.7" height="8" fill="#0000c8"/>
<rect x="1583.3" y="436.5" width="5.1" height="3.3" fill="#0000ac" opacity="0.6"/>
<rect x="1583.3" y="439.8" width="5.1" height="5.2" fill="#0000f4"/>
<rect x="1583.3" y="463.5" width="5.1" height="5.3" fill="#0000ac"/>
<rect x="1583.3" y="468.4" width="5.1" height="2.8" fill="#0100ff"/>
<rect x="1583.3" y="470.8" width="5.1" height="2.8" fill="#5b00ff"/>
<rect x="1583.3" y="473.2" width="5.1" height="6.7" fill="#ffd22d"/>
<rect x="1583.7" y="474" width="4.3" height="5.1" fill="#fffe01"/>
<rect x="1584.4" y="475.2" width="2.9" height="2.6" fill="#fffff3"/>
<rect x="1583.3" y="943.6" width="5.1" height="8" fill="#0000c8"/>
<rect x="1655.4" y="436.5" width="6.1" height="3.3" fill="#0000ac" opacity="0.6"/>
<rect x="1655.4" y="439.8" width="6.1" height="5.2" fill="#0000f4"/>
<rect x="1655.4" y="463.5" width="6.1" height="5.3" fill="#0000ac"/>
<rect x="1655.4" y="468.4" width="6.1" height="2.8" fill="#0100ff"/>
<rect x="1655.4" y="470.8" width="6.1" height="2.8" fill="#5b00ff"/>
<rect x="1655.4" y="473.2" width="6.1" height="6.7" fill="#ffd22d"/>
<rect x="1655.8" y="474" width="5.3" height="5.1" fill="#fffe01"/>
<rect x="1656.5" y="475.2" width="3.9" height="2.6" fill="#fffff3"/>
<rect x="1655.4" y="943.6" width="6.1" height="8" fill="#0000c8"/>
<rect x="1668" y="436.5" width="7.2" height="3.3" fill="#0000ac" opacity="0.6"/>
<rect x="1668" y="439.8" width="7.2" height="5.2" fill="#0000f4"/>
<rect x="1668" y="463.5" width="7.2" height="5.3" fill="#0000ac"/>
<rect x="1668" y="468.4" width="7.2" height="2.8" fill="#0100ff"/>
<rect x="1668" y="470.8" width="7.2" height="2.8" fill="#5b00ff"/>
<rect x="1668" y="473.2" width="7.2" height="6.7" fill="#ffd22d"/>
<rect x="1668.4" y="474" width="6.4" height="5.1" fill="#fffe01"/>
<rect x="1669.1" y="475.2" width="5" height="2.6" fill="#fffff3"/>
<rect x="1668" y="943.6" width="7.2" height="8" fill="#0000c8"/>
<rect x="1676.8" y="436.5" width="4.1" height="3.3" fill="#0000ac" opacity="0.6"/>
<rect x="1676.8" y="439.8" width="4.1" height="5.2" fill="#0000f4"/>
<rect x="1676.8" y="463.5" width="4.1" height="5.3" fill="#0000ac"/>
<rect x="1676.8" y="468.4" width="4.1" height="2.8" fill="#0100ff"/>
<rect x="1676.8" y="470.8" width="4.1" height="2.8" fill="#5b00ff"/>
<rect x="1676.8" y="473.2" width="4.1" height="6.7" fill="#ffd22d"/>
<rect x="1677.2" y="474" width="3.3" height="5.1" fill="#fffe01"/>
<rect x="1677.9" y="475.2" width="1.9" height="2.6" fill="#fffff3"/>
<rect x="1676.8" y="943.6" width="4.1" height="8" fill="#0000c8"/>
<rect x="1682.9" y="436.5" width="6.5" height="3.3" fill="#0000ac" opacity="0.6"/>
<rect x="1682.9" y="439.8" width="6.5" height="5.2" fill="#0000f4"/>
<rect x="1682.9" y="463.5" width="6.5" height="5.3" fill="#0000ac"/>
<rect x="1682.9" y="468.4" width="6.5" height="2.8" fill="#0100ff"/>
<rect x="1682.9" y="470.8" width="6.5" height="2.8" fill="#5b00ff"/>
<rect x="1682.9" y="473.2" width="6.5" height="6.7" fill="#ffd22d"/>
<rect x="1683.3" y="474" width="5.7" height="5.1" fill="#fffe01"/>
<rect x="1684" y="475.2" width="4.3" height="2.6" fill="#fffff3"/>
<rect x="1682.9" y="943.6" width="6.5" height="8" fill="#0000c8"/>
<rect x="1742.5" y="436.5" width="7.5" height="3.3" fill="#0000ac" opacity="0.6"/>
<rect x="1742.5" y="439.8" width="7.5" height="5.2" fill="#0000f4"/>
<rect x="1742.5" y="463.5" width="7.5" height="5.3" fill="#0000ac"/>
<rect x="1742.5" y="468.4" width="7.5" height="2.8" fill="#0100ff"/>
<rect x="1742.5" y="470.8" width="7.5" height="2.8" fill="#5b00ff"/>
<rect x="1742.5" y="473.2" width="7.5" height="6.7" fill="#ffd22d"/>
<rect x="1742.9" y="474" width="6.7" height="5.1" fill="#fffe01"/>
<rect x="1743.6" y="475.2" width="5.3" height="2.6" fill="#fffff3"/>
<rect x="1742.5" y="943.6" width="7.5" height="8" fill="#0000c8"/>
<rect x="1755.7" y="436.5" width="6.9" height="3.3" fill="#0000ac" opacity="0.6"/>
<rect x="1755.7" y="439.8" width="6.9" height="5.2" fill="#0000f4"/>
<rect x="1755.7" y="463.5" width="6.9" height="5.3" fill="#0000ac"/>
<rect x="1755.7" y="468.4" width="6.9" height="2.8" fill="#0100ff"/>
<rect x="1755.7" y="470.8" width="6.9" height="2.8" fill="#5b00ff"/>
<rect x="1755.7" y="473.2" width="6.9" height="6.7" fill="#ffd22d"/>
<rect x="1756.1" y="474" width="6.1" height="5.1" fill="#fffe01"/>
<rect x="1756.8" y="475.2" width="4.7" height="2.6" fill="#fffff3"/>
<rect x="1755.7" y="943.6" width="6.9" height="8" fill="#0000c8"/>
<rect x="350.7" y="439.6" width="16.3" height="5.4" fill="#a614eb"/>
<rect x="350.7" y="435" width="16.3" height="4.6" fill="#0000f0"/>
<rect x="350.7" y="459.5" width="16.3" height="4.5" fill="#0000b4"/>
<rect x="350.7" y="463.5" width="16.3" height="5.8" fill="#0700ff"/>
<rect x="350.7" y="468.8" width="16.3" height="5.8" fill="#fffe01"/>
<rect x="351.3" y="469.8" width="15.1" height="3.6" fill="#fff"/>
<rect x="350.7" y="474.2" width="16.3" height="5.2" fill="#ffc23d"/>
<rect x="350.7" y="478.6" width="16.3" height="1.6" fill="#ff56a9"/>
<rect x="350.7" y="939.5" width="16.3" height="12" fill="#3600ff"/>
<rect x="557.3" y="465.5" width="7.7" height="4.5" fill="#2d00ff"/>
<rect x="557.3" y="469.2" width="7.7" height="6.3" fill="#ff50af"/>
<rect x="557.3" y="475.2" width="7.7" height="5.1" fill="#6e00ff"/>
<rect x="557.3" y="439.6" width="7.7" height="6.2" fill="#0000fc"/>
<rect x="819.1" y="472.4" width="7.5" height="7.6" fill="#5200ff"/>
<rect x="836.8" y="472.4" width="6.1" height="7.6" fill="#b920df"/>
<rect x="1207.6" y="470" width="3.9" height="10" fill="#0700ff"/>
<rect x="1335.7" y="470" width="1.5" height="10.3" fill="#ff56a9"/>
<rect x="939.5" y="439.6" width="15.5" height="6.2" fill="#1a00ff"/>
<rect x="956" y="439.4" width="8.5" height="6.4" fill="#9d0ef1"/>
<rect x="939.5" y="435" width="26.5" height="4.6" fill="#0000c4"/>
<rect x="939.5" y="459" width="26.5" height="6" fill="#0000d8"/>
<rect x="939.5" y="464" width="26.5" height="6" fill="#2300ff"/>
<rect x="939.5" y="469.2" width="26.5" height="5.2" fill="#ffa25d"/>
<rect x="939.5" y="474" width="26.5" height="6.3" fill="#ffff8e"/>
<rect x="943.5" y="470" width="4.5" height="4.5" fill="#ffffa7"/>
<rect x="958.5" y="470" width="4.5" height="6" fill="#ffffda"/>
<rect x="950.5" y="471.5" width="2.5" height="8.5" fill="#ffec13"/>
<rect x="955.2" y="469.2" width="1.4" height="11.1" fill="#8100ff"/>
<rect x="948.6" y="474.5" width="1.2" height="5.8" fill="#ff748b"/>
<rect x="939.5" y="939.5" width="26.5" height="12" fill="#2300ff"/>
<rect x="1558.3" y="439.6" width="12.8" height="6.2" fill="#7800ff"/>
<rect x="1558.3" y="462" width="12.8" height="7.6" fill="#5200ff"/>
<rect x="1558.3" y="469" width="12.8" height="11.4" fill="#ffb04f"/>
<rect x="1562.5" y="469" width="4" height="11.4" fill="#fffe01"/>
<rect x="1558.3" y="476" width="3.7" height="4.4" fill="#c92ad5"/>
<rect x="1558.3" y="939.5" width="12.8" height="12" fill="#4900ff"/>
<rect x="1433.9" y="941" width="25" height="10.5" fill="#3f00ff"/>
<rect x="350.7" y="487" width="16.3" height="11.5" fill="#0000b8"/>
<rect x="350.7" y="498.5" width="16.3" height="18.9" fill="#000030"/>
<rect x="350.7" y="517" width="16.3" height="4.8" fill="#1000ff"/>
<rect x="350.7" y="521.2" width="16.3" height="4.4" fill="#ffc03f"/>
<rect x="350.7" y="524.9" width="16.3" height="8.1" fill="#fff"/>
<rect x="350.7" y="534.2" width="16.3" height="17.8" fill="#000058" opacity="0.75"/>
<rect x="557.3" y="487" width="8.5" height="11.5" fill="#0000b8"/>
<rect x="557.3" y="498.5" width="8.5" height="18.9" fill="#000030"/>
<rect x="557.3" y="517" width="8.5" height="4.8" fill="#1000ff"/>
<rect x="557.3" y="521.2" width="8.5" height="4.4" fill="#ffc03f"/>
<rect x="557.3" y="524.9" width="8.5" height="8.1" fill="#fff"/>
<rect x="557.3" y="534.2" width="8.5" height="17.8" fill="#000058" opacity="0.75"/>
<rect x="900.4" y="487" width="9.6" height="11.5" fill="#0000b8"/>
<rect x="900.4" y="498.5" width="9.6" height="18.9" fill="#000030"/>
<rect x="900.4" y="517" width="9.6" height="4.8" fill="#1000ff"/>
<rect x="900.4" y="521.2" width="9.6" height="4.4" fill="#ffc03f"/>
<rect x="900.4" y="524.9" width="9.6" height="8.1" fill="#fff"/>
<rect x="900.4" y="534.2" width="9.6" height="17.8" fill="#000058" opacity="0.75"/>
<rect x="941" y="487" width="10.6" height="11.5" fill="#0000b8"/>
<rect x="941" y="498.5" width="10.6" height="18.9" fill="#000030"/>
<rect x="941" y="517" width="10.6" height="4.8" fill="#1000ff"/>
<rect x="941" y="521.2" width="10.6" height="4.4" fill="#ffc03f"/>
<rect x="941" y="524.9" width="10.6" height="8.1" fill="#fff"/>
<rect x="941" y="534.2" width="10.6" height="17.8" fill="#000058" opacity="0.75"/>
<rect x="953" y="487" width="2.3" height="11.5" fill="#0000b8"/>
<rect x="953" y="498.5" width="2.3" height="18.9" fill="#000030"/>
<rect x="953" y="517" width="2.3" height="4.8" fill="#1000ff"/>
<rect x="953" y="521.2" width="2.3" height="4.4" fill="#ffc03f"/>
<rect x="953" y="524.9" width="2.3" height="8.1" fill="#fff"/>
<rect x="953" y="534.2" width="2.3" height="17.8" fill="#000058" opacity="0.75"/>
<rect x="956.7" y="487" width="7.3" height="11.5" fill="#0000b8"/>
<rect x="956.7" y="498.5" width="7.3" height="18.9" fill="#000030"/>
<rect x="956.7" y="517" width="7.3" height="4.8" fill="#1000ff"/>
<rect x="956.7" y="521.2" width="7.3" height="4.4" fill="#ffc03f"/>
<rect x="956.7" y="524.9" width="7.3" height="8.1" fill="#fff"/>
<rect x="956.7" y="534.2" width="7.3" height="17.8" fill="#000058" opacity="0.75"/>
<rect x="1431.8" y="487" width="27.1" height="11.5" fill="#0000b8"/>
<rect x="1431.8" y="498.5" width="27.1" height="18.9" fill="#000030"/>
<rect x="1431.8" y="517" width="27.1" height="4.8" fill="#1000ff"/>
<rect x="1431.8" y="521.2" width="27.1" height="4.4" fill="#ffc03f"/>
<rect x="1431.8" y="524.9" width="27.1" height="8.1" fill="#fff"/>
<rect x="1431.8" y="534.2" width="27.1" height="17.8" fill="#000058" opacity="0.75"/>
<rect x="1558.3" y="487" width="13.2" height="11.5" fill="#0000b8"/>
<rect x="1558.3" y="498.5" width="13.2" height="18.9" fill="#000030"/>
<rect x="1558.3" y="517" width="13.2" height="4.8" fill="#1000ff"/>
<rect x="1558.3" y="521.2" width="13.2" height="4.4" fill="#ffc03f"/>
<rect x="1558.3" y="524.9" width="13.2" height="8.1" fill="#fff"/>
<rect x="1558.3" y="534.2" width="13.2" height="17.8" fill="#000058" opacity="0.75"/>
<rect x="896.4" y="520" width="1.2" height="13.4" fill="#ffde21"/>
<rect x="244.4" y="479.8" width="12.4" height="4.6" fill="#ff6897"/>
<rect x="1387" y="479.8" width="20.4" height="4.6" fill="#ff748b"/>
<rect x="1534.5" y="479.8" width="19.7" height="4.6" fill="#1a00ff"/>
<rect x="1304.6" y="458.6" width="13.6" height="6" fill="#9d0ef1"/>
<rect x="1348.7" y="458.6" width="11.2" height="6" fill="#ff56a9"/>
<rect x="1377.7" y="458.6" width="6.3" height="6" fill="#ff56a9"/>
<rect x="1395.6" y="458.6" width="5.4" height="6" fill="#ff5ca3"/>
<rect x="1425.3" y="458.6" width="5.5" height="6" fill="#fb4ab5"/>
<rect x="1444" y="458.6" width="5" height="6" fill="#ff5ca3"/>
<rect x="1465" y="458.6" width="5" height="6" fill="#ff56a9"/>
<rect x="1218.2" y="517" width="5" height="11.5" fill="#f144bb"/>
<rect x="1232.4" y="517" width="15.2" height="11.5" fill="#ff56a9"/>
<rect x="1273.5" y="517" width="35.1" height="11.5" fill="#6500ff"/>
<rect x="1300" y="517" width="8.6" height="11.5" fill="#9408f7"/>
<rect x="1326.9" y="517" width="3.5" height="11.5" fill="#8100ff"/>
<rect x="798" y="517" width="13.4" height="5" fill="#0000e8"/>
<rect x="830.7" y="517" width="5.1" height="5" fill="#0000cc"/>
<rect x="332.4" y="421.4" width="16.3" height="8.2" fill="#0000d0"/>
<rect x="372" y="420.4" width="16.3" height="9.2" fill="#0000f0"/>
<rect x="328.4" y="454" width="5" height="10" fill="#0000f0"/>
<rect x="305" y="405.6" width="6" height="4.8" fill="#0000e4"/>
<rect x="200" y="357.6" width="100" height="3.6" fill="#1000ff"/>
<rect x="328" y="357.8" width="102" height="3.4" fill="#0000c0"/>
<rect x="147" y="357.2" width="21" height="4.4" fill="#000048"/>
<rect x="560" y="357.2" width="40" height="4.4" fill="#0000c4"/>
<rect x="495" y="357.4" width="10" height="4" fill="#000040"/>
<rect x="650" y="357.4" width="73" height="4" fill="#00004c"/>
<rect x="780" y="357.4" width="40" height="4" fill="#000048"/>
<rect x="845" y="357.4" width="61" height="4" fill="#000040"/>
<rect x="1130" y="357.4" width="50" height="4" fill="#000054"/>
<rect x="1500" y="357.4" width="60" height="4" fill="#000054"/>
<rect x="1304.6" y="452" width="13.6" height="6.6" fill="#0000f0" opacity="0.8"/>
<rect x="1348.7" y="452" width="11.2" height="6.6" fill="#0000f0" opacity="0.8"/>
<rect x="1377.7" y="452" width="6.3" height="6.6" fill="#0000f0" opacity="0.8"/>
<rect x="1395.6" y="452" width="5.4" height="6.6" fill="#0000f0" opacity="0.8"/>
<rect x="1425.3" y="452" width="5.5" height="6.6" fill="#0000f0" opacity="0.8"/>
<rect x="1444" y="452" width="5" height="6.6" fill="#0000f0" opacity="0.8"/>
<rect x="1465" y="452" width="5" height="6.6" fill="#0000f0" opacity="0.8"/>
<rect x="1218.2" y="511" width="5" height="6" fill="#0000f0" opacity="0.8"/>
<rect x="1232.4" y="511" width="15.2" height="6" fill="#0000f0" opacity="0.8"/>
<rect x="1273.5" y="512" width="35.1" height="5" fill="#0000f0" opacity="0.8"/>
<rect x="429.4" y="398.8" width="3.8" height="6" fill="#0700ff"/>
<rect x="429.4" y="411" width="3.8" height="4.5" fill="#3f00ff"/>
<rect x="429.4" y="404.8" width="3.8" height="6.2" fill="#ff629d"/>
<rect x="632.9" y="404.6" width="5.1" height="6" fill="#0700ff"/>
<rect x="632.9" y="416.6" width="5.1" height="4.5" fill="#3f00ff"/>
<rect x="632.9" y="410.6" width="5.1" height="6" fill="#ff629d"/>
<rect x="1284.2" y="404.6" width="4.8" height="6" fill="#0700ff"/>
<rect x="1284.2" y="416.6" width="4.8" height="4.5" fill="#3f00ff"/>
<rect x="1284.2" y="410.6" width="4.8" height="6" fill="#ff629d"/>
</g>
</g>
<rect x="121.4" y="51" width="1673.9" height="924.4" fill="none" stroke="#000" stroke-width="1.2"/>
<rect x="1935.6" y="27.3" width="43.1" height="960.3" fill="url(#cb)" stroke="#000" stroke-width="1.2"/>
<path d="M121.4 975.4v5.9M233 975.4v5.9M344.6 975.4v5.9M456.2 975.4v5.9M567.8 975.4v5.9M679.4 975.4v5.9M791 975.4v5.9M902.6 975.4v5.9M1014.1 975.4v5.9M1125.7 975.4v5.9M1237.3 975.4v5.9M1348.9 975.4v5.9M1460.5 975.4v5.9M1572.1 975.4v5.9M1683.7 975.4v5.9M121.4 149.4h-5.9M121.4 293h-5.9M121.4 436.6h-5.9M121.4 580.1h-5.9M121.4 723.7h-5.9M121.4 867.3h-5.9M1978.7 987.6h5.9M1978.7 874.6h5.9M1978.7 761.6h5.9M1978.7 648.7h5.9M1978.7 535.7h5.9M1978.7 422.7h5.9M1978.7 309.7h5.9M1978.7 196.8h5.9M1978.7 83.8h5.9" stroke="#000" stroke-width="1.2" fill="none"/>
<g opacity="0.999">
<text x="241.89" y="40.80" font-size="37.5" textLength="210.31" lengthAdjust="spacingAndGlyphs">2026/04/18</text>
<text x="476.60" y="40.80" font-size="37.5" textLength="102.38" lengthAdjust="spacingAndGlyphs">Radio</text>
<text x="591.24" y="40.80" font-size="37.5" textLength="67.14" lengthAdjust="spacingAndGlyphs">flux</text>
<text x="670.99" y="40.80" font-size="37.5" textLength="146.37" lengthAdjust="spacingAndGlyphs">density,</text>
<text x="829.16" y="40.80" font-size="37.5" textLength="212.19" lengthAdjust="spacingAndGlyphs">e-CALLISTO</text>
<text x="1053.95" y="40.80" font-size="37.5" textLength="343.36" lengthAdjust="spacingAndGlyphs">(Finland-Kempele),</text>
<text x="1409.29" y="40.80" font-size="37.5" textLength="204.68" lengthAdjust="spacingAndGlyphs">Focuscode:</text>
<text x="1627.17" y="40.80" font-size="37.5" textLength="44.41" lengthAdjust="spacingAndGlyphs">01</text>
<text x="77.16" y="1010.20" font-size="31.1" textLength="86.09" lengthAdjust="spacingAndGlyphs">09:30</text>
<text x="188.74" y="1010.20" font-size="31.1" textLength="86.44" lengthAdjust="spacingAndGlyphs">09:31</text>
<text x="300.34" y="1010.20" font-size="31.1" textLength="86.49" lengthAdjust="spacingAndGlyphs">09:32</text>
<text x="411.93" y="1010.20" font-size="31.1" textLength="86.26" lengthAdjust="spacingAndGlyphs">09:33</text>
<text x="523.53" y="1010.20" font-size="31.1" textLength="85.74" lengthAdjust="spacingAndGlyphs">09:34</text>
<text x="635.12" y="1010.20" font-size="31.1" textLength="86.19" lengthAdjust="spacingAndGlyphs">09:35</text>
<text x="746.71" y="1010.20" font-size="31.1" textLength="86.26" lengthAdjust="spacingAndGlyphs">09:36</text>
<text x="858.30" y="1010.20" font-size="31.1" textLength="86.49" lengthAdjust="spacingAndGlyphs">09:37</text>
<text x="969.90" y="1010.20" font-size="31.1" textLength="86.25" lengthAdjust="spacingAndGlyphs">09:38</text>
<text x="1081.49" y="1010.20" font-size="31.1" textLength="86.38" lengthAdjust="spacingAndGlyphs">09:39</text>
<text x="1193.09" y="1010.20" font-size="31.1" textLength="86.09" lengthAdjust="spacingAndGlyphs">09:40</text>
<text x="1304.68" y="1010.20" font-size="31.1" textLength="86.44" lengthAdjust="spacingAndGlyphs">09:41</text>
<text x="1416.27" y="1010.20" font-size="31.1" textLength="86.49" lengthAdjust="spacingAndGlyphs">09:42</text>
<text x="1527.87" y="1010.20" font-size="31.1" textLength="86.26" lengthAdjust="spacingAndGlyphs">09:43</text>
<text x="1639.47" y="1010.20" font-size="31.1" textLength="85.74" lengthAdjust="spacingAndGlyphs">09:44</text>
<text x="52.40" y="160.30" font-size="31.1" textLength="55.76" lengthAdjust="spacingAndGlyphs">160</text>
<text x="52.40" y="303.88" font-size="31.1" textLength="55.76" lengthAdjust="spacingAndGlyphs">140</text>
<text x="52.40" y="447.46" font-size="31.1" textLength="55.76" lengthAdjust="spacingAndGlyphs">120</text>
<text x="52.40" y="591.04" font-size="31.1" textLength="55.76" lengthAdjust="spacingAndGlyphs">100</text>
<text x="71.10" y="734.62" font-size="31.1" textLength="37.05" lengthAdjust="spacingAndGlyphs">80</text>
<text x="70.85" y="878.20" font-size="31.1" textLength="37.32" lengthAdjust="spacingAndGlyphs">60</text>
<text x="761.21" y="1048.60" font-size="34.0" textLength="203.35" lengthAdjust="spacingAndGlyphs">Observation</text>
<text x="975.89" y="1048.60" font-size="34.0" textLength="75.32" lengthAdjust="spacingAndGlyphs">time</text>
<text x="1062.24" y="1048.60" font-size="34.0" textLength="91.73" lengthAdjust="spacingAndGlyphs">[UTC]</text>
<text transform="translate(36.80 650.40) rotate(-90)" x="-2.97" y="0" font-size="34.0" textLength="171.21" lengthAdjust="spacingAndGlyphs">Frequency</text>
<text transform="translate(36.80 650.40) rotate(-90)" x="179.99" y="0" font-size="34.0" textLength="97.03" lengthAdjust="spacingAndGlyphs">[MHz]</text>
<text transform="translate(2046.40 688.20) rotate(-90)" x="-1.49" y="0" font-size="34.0" textLength="43.25" lengthAdjust="spacingAndGlyphs">dB</text>
<text transform="translate(2046.40 688.20) rotate(-90)" x="53.28" y="0" font-size="34.0" textLength="101.84" lengthAdjust="spacingAndGlyphs">above</text>
<text transform="translate(2046.40 688.20) rotate(-90)" x="166.46" y="0" font-size="34.0" textLength="196.22" lengthAdjust="spacingAndGlyphs">background</text>
<text x="1991.85" y="992.80" font-size="15.8" textLength="12.38" lengthAdjust="spacingAndGlyphs">−</text>
<text x="2003.96" y="992.80" font-size="15.8" textLength="10.38" lengthAdjust="spacingAndGlyphs">2</text>
<text x="1991.41" y="879.82" font-size="15.8" textLength="9.89" lengthAdjust="spacingAndGlyphs">0</text>
<text x="1991.16" y="766.85" font-size="15.8" textLength="10.38" lengthAdjust="spacingAndGlyphs">2</text>
<text x="1991.71" y="653.87" font-size="15.8" textLength="9.38" lengthAdjust="spacingAndGlyphs">4</text>
<text x="1991.16" y="540.89" font-size="15.8" textLength="10.25" lengthAdjust="spacingAndGlyphs">6</text>
<text x="1991.31" y="427.92" font-size="15.8" textLength="10.07" lengthAdjust="spacingAndGlyphs">8</text>
<text x="1991.27" y="314.94" font-size="15.8" textLength="19.41" lengthAdjust="spacingAndGlyphs">10</text>
<text x="1991.25" y="201.96" font-size="15.8" textLength="19.63" lengthAdjust="spacingAndGlyphs">12</text>
<text x="1991.28" y="88.99" font-size="15.8" textLength="19.22" lengthAdjust="spacingAndGlyphs">14</text>
</g>
</svg>
</body></html>
